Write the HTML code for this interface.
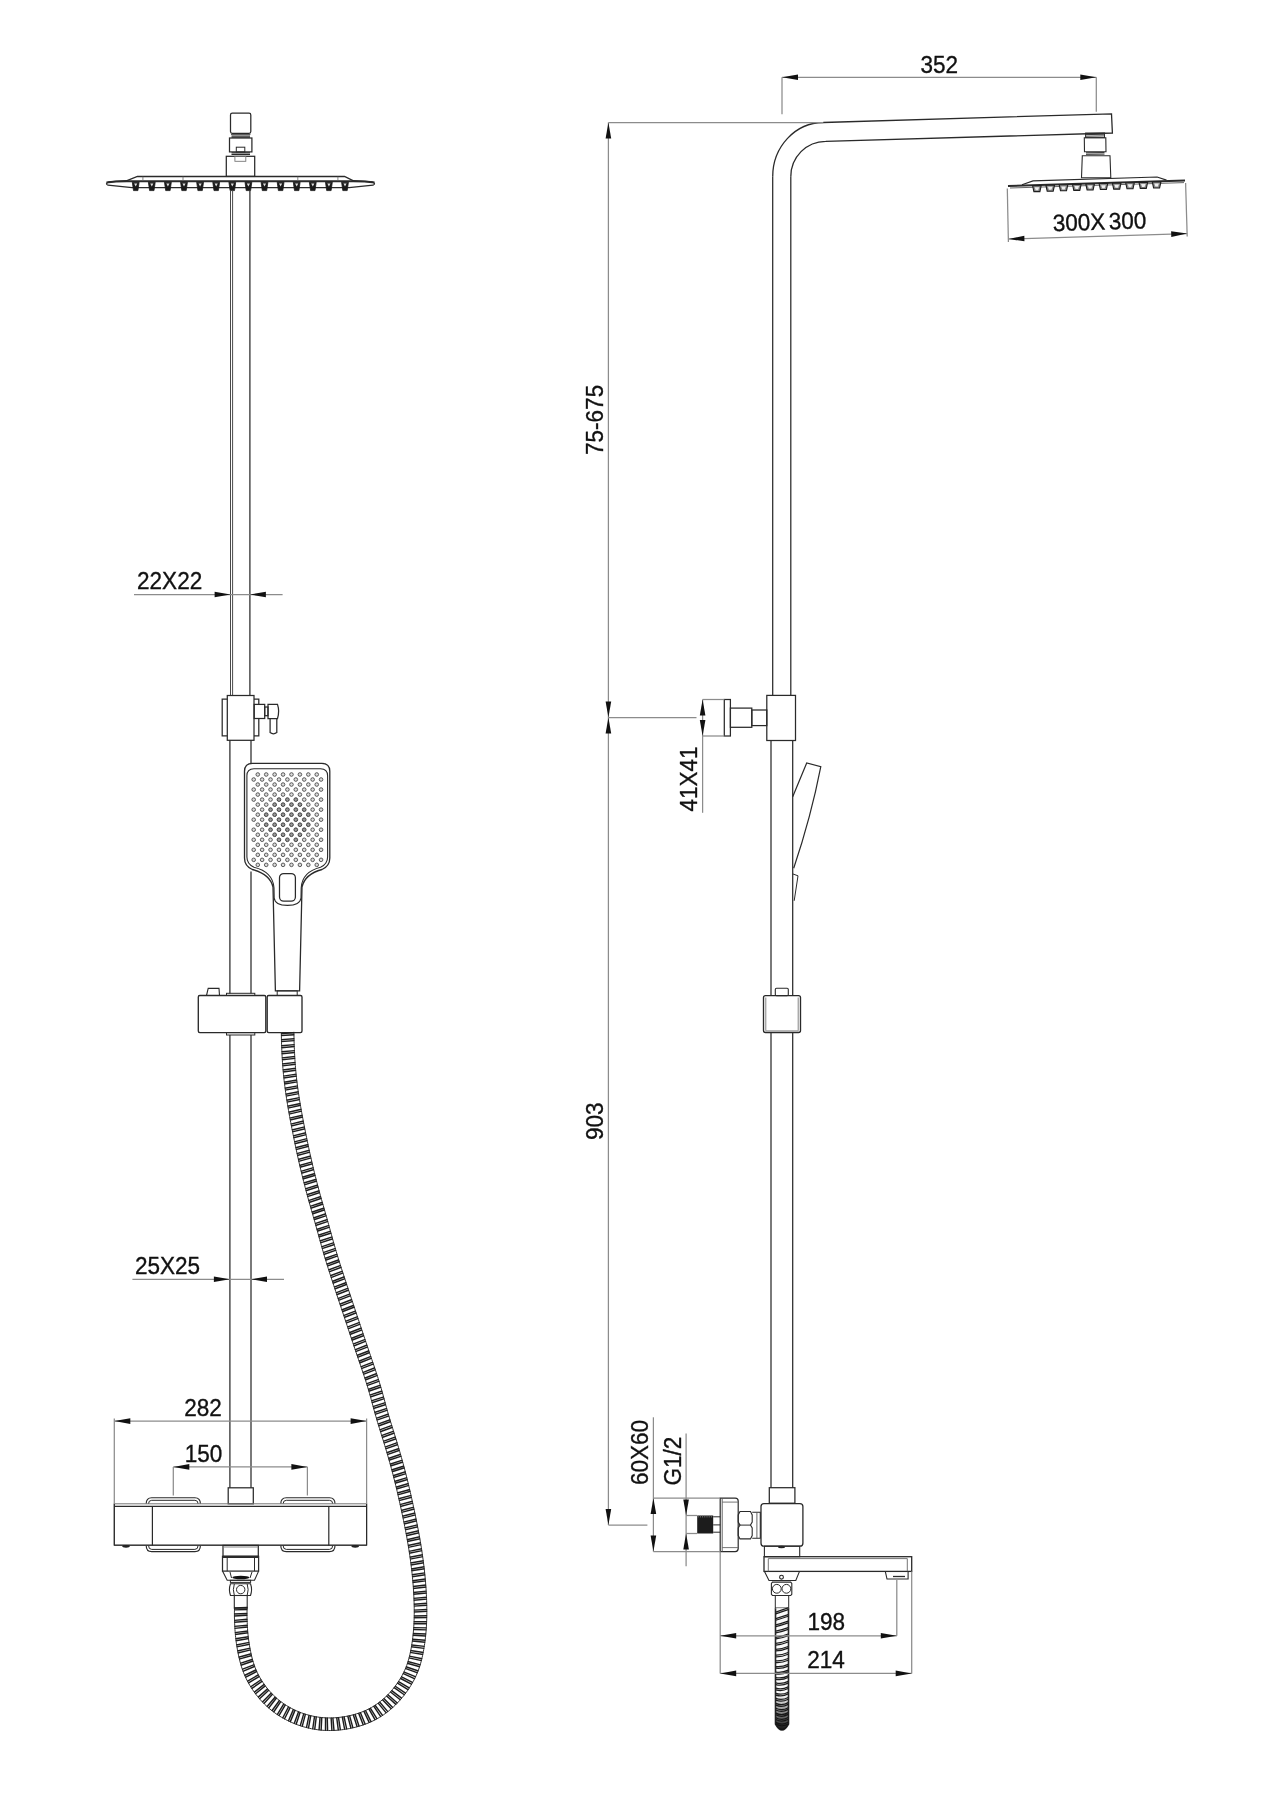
<!DOCTYPE html>
<html><head><meta charset="utf-8"><title>Shower system drawing</title>
<style>
html,body{margin:0;padding:0;background:#fff;}
svg{display:block;will-change:transform;}
text{font-family:"Liberation Sans", sans-serif;fill:#111;stroke:#111;stroke-width:0.35px;}
</style></head>
<body>
<svg width="1273" height="1800" viewBox="0 0 1273 1800">
<rect width="1273" height="1800" fill="#fff"/>
<rect x="230.5" y="113.2" width="20.3" height="20.1" rx="1.8" fill="none" stroke="#2a2a2a" stroke-width="1.25" />
<path d="M231 134.2 L250.4 134.2 M231.5 136 L250 136 M231.5 137.3 L250 137.3" fill="none" stroke="#2a2a2a" stroke-width="1.1" />
<rect x="229.5" y="138" width="22.4" height="13.9" rx="0" fill="none" stroke="#2a2a2a" stroke-width="1.25" />
<rect x="236.3" y="147.2" width="8.5" height="4.8" rx="0" fill="none" stroke="#2a2a2a" stroke-width="1.0" />
<path d="M231.5 152.8 L250 152.8 M231.5 154.4 L250 154.4" fill="none" stroke="#2a2a2a" stroke-width="1.1" />
<rect x="226.3" y="156.3" width="28.4" height="20.1" rx="0" fill="none" stroke="#2a2a2a" stroke-width="1.25" />
<rect x="234.9" y="156.3" width="10.9" height="5" rx="0" fill="none" stroke="#777" stroke-width="0.9" />
<path d="M127 180.6 L137.4 176.5 L344.5 176.5 L353 180.6" fill="none" stroke="#2a2a2a" stroke-width="1.3" />
<path d="M106.5 182.6 Q115 181.2 127 181.2 L353 181.2 Q366 181.2 374.5 182.6" fill="none" stroke="#2a2a2a" stroke-width="2.0" />
<path d="M127 180.6 L109 181.9 Q104.5 183.6 108 185.2 L132 187.6 L349 187.6 L373 185.2 Q376.5 183.6 372 181.9 L353 180.6" fill="none" stroke="#2a2a2a" stroke-width="1.2" />
<line x1="142.9" y1="176.6" x2="142.9" y2="181" stroke="#666" stroke-width="0.8" />
<line x1="183" y1="176.6" x2="183" y2="181" stroke="#666" stroke-width="0.8" />
<line x1="297.8" y1="176.6" x2="297.8" y2="181" stroke="#666" stroke-width="0.8" />
<line x1="337.9" y1="176.6" x2="337.9" y2="181" stroke="#666" stroke-width="0.8" />
<path d="M132.3 182.2 L139.1 182.2 L137.9 190.6 L133.5 190.6 Z" fill="#1a1a1a" stroke="#1a1a1a" stroke-width="0.8"/>
<path d="M134.1 183.6 L137.3 183.6 L135.7 186.5 Z" fill="#ddd"/>
<path d="M148.4 182.2 L155.2 182.2 L154 190.6 L149.6 190.6 Z" fill="#1a1a1a" stroke="#1a1a1a" stroke-width="0.8"/>
<path d="M150.2 183.6 L153.4 183.6 L151.8 186.5 Z" fill="#ddd"/>
<path d="M164.5 182.2 L171.3 182.2 L170.1 190.6 L165.7 190.6 Z" fill="#1a1a1a" stroke="#1a1a1a" stroke-width="0.8"/>
<path d="M166.3 183.6 L169.5 183.6 L167.9 186.5 Z" fill="#ddd"/>
<path d="M180.6 182.2 L187.4 182.2 L186.2 190.6 L181.8 190.6 Z" fill="#1a1a1a" stroke="#1a1a1a" stroke-width="0.8"/>
<path d="M182.4 183.6 L185.6 183.6 L184 186.5 Z" fill="#ddd"/>
<path d="M196.7 182.2 L203.5 182.2 L202.3 190.6 L197.9 190.6 Z" fill="#1a1a1a" stroke="#1a1a1a" stroke-width="0.8"/>
<path d="M198.5 183.6 L201.7 183.6 L200.1 186.5 Z" fill="#ddd"/>
<path d="M212.8 182.2 L219.6 182.2 L218.4 190.6 L214 190.6 Z" fill="#1a1a1a" stroke="#1a1a1a" stroke-width="0.8"/>
<path d="M214.6 183.6 L217.8 183.6 L216.2 186.5 Z" fill="#ddd"/>
<path d="M228.9 182.2 L235.7 182.2 L234.5 190.6 L230.1 190.6 Z" fill="#1a1a1a" stroke="#1a1a1a" stroke-width="0.8"/>
<path d="M230.7 183.6 L233.9 183.6 L232.3 186.5 Z" fill="#ddd"/>
<path d="M245 182.2 L251.8 182.2 L250.6 190.6 L246.2 190.6 Z" fill="#1a1a1a" stroke="#1a1a1a" stroke-width="0.8"/>
<path d="M246.8 183.6 L250 183.6 L248.4 186.5 Z" fill="#ddd"/>
<path d="M261.1 182.2 L267.9 182.2 L266.7 190.6 L262.3 190.6 Z" fill="#1a1a1a" stroke="#1a1a1a" stroke-width="0.8"/>
<path d="M262.9 183.6 L266.1 183.6 L264.5 186.5 Z" fill="#ddd"/>
<path d="M277.2 182.2 L284 182.2 L282.8 190.6 L278.4 190.6 Z" fill="#1a1a1a" stroke="#1a1a1a" stroke-width="0.8"/>
<path d="M279 183.6 L282.2 183.6 L280.6 186.5 Z" fill="#ddd"/>
<path d="M293.3 182.2 L300.1 182.2 L298.9 190.6 L294.5 190.6 Z" fill="#1a1a1a" stroke="#1a1a1a" stroke-width="0.8"/>
<path d="M295.1 183.6 L298.3 183.6 L296.7 186.5 Z" fill="#ddd"/>
<path d="M309.4 182.2 L316.2 182.2 L315 190.6 L310.6 190.6 Z" fill="#1a1a1a" stroke="#1a1a1a" stroke-width="0.8"/>
<path d="M311.2 183.6 L314.4 183.6 L312.8 186.5 Z" fill="#ddd"/>
<path d="M325.5 182.2 L332.3 182.2 L331.1 190.6 L326.7 190.6 Z" fill="#1a1a1a" stroke="#1a1a1a" stroke-width="0.8"/>
<path d="M327.3 183.6 L330.5 183.6 L328.9 186.5 Z" fill="#ddd"/>
<path d="M341.6 182.2 L348.4 182.2 L347.2 190.6 L342.8 190.6 Z" fill="#1a1a1a" stroke="#1a1a1a" stroke-width="0.8"/>
<path d="M343.4 183.6 L346.6 183.6 L345 186.5 Z" fill="#ddd"/>
<line x1="230.5" y1="190.5" x2="230.5" y2="695.5" stroke="#4a4a4a" stroke-width="1.0" />
<line x1="232.6" y1="190.5" x2="232.6" y2="695.5" stroke="#4a4a4a" stroke-width="1.0" />
<line x1="249.9" y1="190.5" x2="249.9" y2="695.5" stroke="#2a2a2a" stroke-width="1.25" />
<rect x="227.3" y="695.5" width="26.7" height="44.8" rx="0" fill="none" stroke="#2a2a2a" stroke-width="1.25" />
<path d="M227.3 699.2 L222.2 699.2 L222.2 735.8 L227.3 735.8" fill="none" stroke="#2a2a2a" stroke-width="1.25" />
<path d="M254 699.2 L258.8 699.2 L258.8 704.4 M258.8 718.5 L258.8 735.8 L254 735.8" fill="none" stroke="#2a2a2a" stroke-width="1.25" />
<rect x="254.2" y="704.4" width="10.5" height="14.1" rx="0" fill="none" stroke="#2a2a2a" stroke-width="1.25" />
<rect x="264.7" y="707" width="3.3" height="8.7" rx="0" fill="none" stroke="#2a2a2a" stroke-width="1.25" />
<path d="M268 704.4 L277.5 704.4 Q279.8 711.4 277.5 718.5 L268 718.5 Z" fill="none" stroke="#2a2a2a" stroke-width="1.25" />
<path d="M270.1 718.5 L270.1 732.6 Q273.4 735.2 276.8 732.6 L276.8 718.5" fill="none" stroke="#2a2a2a" stroke-width="1.25" />
<line x1="229.9" y1="740.3" x2="229.9" y2="993.5" stroke="#2a2a2a" stroke-width="1.25" />
<line x1="251" y1="740.3" x2="251" y2="763.5" stroke="#2a2a2a" stroke-width="1.25" />
<line x1="251" y1="871.5" x2="251" y2="993.5" stroke="#2a2a2a" stroke-width="1.25" />
<line x1="229.9" y1="1035" x2="229.9" y2="1487.8" stroke="#2a2a2a" stroke-width="1.25" />
<line x1="251" y1="1035" x2="251" y2="1487.8" stroke="#2a2a2a" stroke-width="1.25" />
<path d="M252.5 763.3 L321.8 763.3 Q329.8 763.3 329.8 771.3 L329.8 858 Q329.8 866 322 869.5 Q305 874 302 887 L299.6 990.8 L275.4 990.8 L273 887 Q270 874 252.3 869.5 Q244.5 866 244.5 858 L244.5 771.3 Q244.5 763.3 252.5 763.3 Z" fill="none" stroke="#2a2a2a" stroke-width="1.3" />
<path d="M254 768.7 L320.5 768.7 Q327.6 768.7 327.6 775.8 L327.6 857 Q327.6 864 320.5 867.3 Q302 872 301.2 888 L301 898 Q300 905.4 287.5 905.4 Q275 905.4 274.2 898 L274 888 Q273 872 254 867.3 Q246.9 864 246.9 857 L246.9 775.8 Q246.9 768.7 254 768.7 Z" fill="none" stroke="#2a2a2a" stroke-width="1.1" />
<rect x="279.5" y="873.5" width="15.9" height="27.7" rx="4.2" fill="none" stroke="#2a2a2a" stroke-width="1.25" />
<rect x="277.2" y="990.8" width="20" height="4.7" rx="0" fill="none" stroke="#2a2a2a" stroke-width="1.0" />
<circle cx="257.8" cy="774.5" r="1.8" fill="#dcdcdc" stroke="#4a4a4a" stroke-width="0.9"/>
<circle cx="266.22" cy="774.5" r="1.8" fill="#dcdcdc" stroke="#4a4a4a" stroke-width="0.9"/>
<circle cx="274.64" cy="774.5" r="1.8" fill="#dcdcdc" stroke="#4a4a4a" stroke-width="0.9"/>
<circle cx="283.06" cy="774.5" r="1.8" fill="#dcdcdc" stroke="#4a4a4a" stroke-width="0.9"/>
<circle cx="291.48" cy="774.5" r="1.8" fill="#dcdcdc" stroke="#4a4a4a" stroke-width="0.9"/>
<circle cx="299.9" cy="774.5" r="1.8" fill="#dcdcdc" stroke="#4a4a4a" stroke-width="0.9"/>
<circle cx="308.32" cy="774.5" r="1.8" fill="#dcdcdc" stroke="#4a4a4a" stroke-width="0.9"/>
<circle cx="316.74" cy="774.5" r="1.8" fill="#dcdcdc" stroke="#4a4a4a" stroke-width="0.9"/>
<circle cx="253.7" cy="779.52" r="1.8" fill="#dcdcdc" stroke="#4a4a4a" stroke-width="0.9"/>
<circle cx="262.12" cy="779.52" r="1.8" fill="#dcdcdc" stroke="#4a4a4a" stroke-width="0.9"/>
<circle cx="270.54" cy="779.52" r="1.8" fill="#dcdcdc" stroke="#4a4a4a" stroke-width="0.9"/>
<circle cx="278.96" cy="779.52" r="1.8" fill="#dcdcdc" stroke="#4a4a4a" stroke-width="0.9"/>
<circle cx="287.38" cy="779.52" r="1.8" fill="#dcdcdc" stroke="#4a4a4a" stroke-width="0.9"/>
<circle cx="295.8" cy="779.52" r="1.8" fill="#dcdcdc" stroke="#4a4a4a" stroke-width="0.9"/>
<circle cx="304.22" cy="779.52" r="1.8" fill="#dcdcdc" stroke="#4a4a4a" stroke-width="0.9"/>
<circle cx="312.64" cy="779.52" r="1.8" fill="#dcdcdc" stroke="#4a4a4a" stroke-width="0.9"/>
<circle cx="321.06" cy="779.52" r="1.8" fill="#dcdcdc" stroke="#4a4a4a" stroke-width="0.9"/>
<circle cx="257.8" cy="784.54" r="1.8" fill="#dcdcdc" stroke="#4a4a4a" stroke-width="0.9"/>
<circle cx="266.22" cy="784.54" r="1.8" fill="#dcdcdc" stroke="#4a4a4a" stroke-width="0.9"/>
<circle cx="274.64" cy="784.54" r="1.8" fill="#dcdcdc" stroke="#4a4a4a" stroke-width="0.9"/>
<circle cx="283.06" cy="784.54" r="1.8" fill="#dcdcdc" stroke="#4a4a4a" stroke-width="0.9"/>
<circle cx="291.48" cy="784.54" r="1.8" fill="#dcdcdc" stroke="#4a4a4a" stroke-width="0.9"/>
<circle cx="299.9" cy="784.54" r="1.8" fill="#dcdcdc" stroke="#4a4a4a" stroke-width="0.9"/>
<circle cx="308.32" cy="784.54" r="1.8" fill="#dcdcdc" stroke="#4a4a4a" stroke-width="0.9"/>
<circle cx="316.74" cy="784.54" r="1.8" fill="#dcdcdc" stroke="#4a4a4a" stroke-width="0.9"/>
<circle cx="253.7" cy="789.56" r="1.8" fill="#dcdcdc" stroke="#4a4a4a" stroke-width="0.9"/>
<circle cx="262.12" cy="789.56" r="1.8" fill="#dcdcdc" stroke="#4a4a4a" stroke-width="0.9"/>
<circle cx="270.54" cy="789.56" r="1.8" fill="#dcdcdc" stroke="#4a4a4a" stroke-width="0.9"/>
<circle cx="278.96" cy="789.56" r="1.8" fill="#dcdcdc" stroke="#4a4a4a" stroke-width="0.9"/>
<circle cx="287.38" cy="789.56" r="1.8" fill="#dcdcdc" stroke="#4a4a4a" stroke-width="0.9"/>
<circle cx="295.8" cy="789.56" r="1.8" fill="#dcdcdc" stroke="#4a4a4a" stroke-width="0.9"/>
<circle cx="304.22" cy="789.56" r="1.8" fill="#dcdcdc" stroke="#4a4a4a" stroke-width="0.9"/>
<circle cx="312.64" cy="789.56" r="1.8" fill="#dcdcdc" stroke="#4a4a4a" stroke-width="0.9"/>
<circle cx="321.06" cy="789.56" r="1.8" fill="#dcdcdc" stroke="#4a4a4a" stroke-width="0.9"/>
<circle cx="257.8" cy="794.58" r="1.8" fill="#dcdcdc" stroke="#4a4a4a" stroke-width="0.9"/>
<circle cx="266.22" cy="794.58" r="1.8" fill="#dcdcdc" stroke="#4a4a4a" stroke-width="0.9"/>
<circle cx="274.64" cy="794.58" r="1.8" fill="#dcdcdc" stroke="#4a4a4a" stroke-width="0.9"/>
<circle cx="283.06" cy="794.58" r="1.8" fill="#dcdcdc" stroke="#4a4a4a" stroke-width="0.9"/>
<circle cx="291.48" cy="794.58" r="1.8" fill="#dcdcdc" stroke="#4a4a4a" stroke-width="0.9"/>
<circle cx="299.9" cy="794.58" r="1.8" fill="#dcdcdc" stroke="#4a4a4a" stroke-width="0.9"/>
<circle cx="308.32" cy="794.58" r="1.8" fill="#dcdcdc" stroke="#4a4a4a" stroke-width="0.9"/>
<circle cx="316.74" cy="794.58" r="1.8" fill="#dcdcdc" stroke="#4a4a4a" stroke-width="0.9"/>
<circle cx="253.7" cy="799.6" r="1.8" fill="#dcdcdc" stroke="#4a4a4a" stroke-width="0.9"/>
<circle cx="262.12" cy="799.6" r="1.8" fill="#dcdcdc" stroke="#4a4a4a" stroke-width="0.9"/>
<circle cx="270.54" cy="799.6" r="1.8" fill="#dcdcdc" stroke="#4a4a4a" stroke-width="0.9"/>
<circle cx="278.96" cy="799.6" r="1.85" fill="#9a9a9a" stroke="#3a3a3a" stroke-width="0.95"/>
<circle cx="287.38" cy="799.6" r="1.85" fill="#9a9a9a" stroke="#3a3a3a" stroke-width="0.95"/>
<circle cx="295.8" cy="799.6" r="1.85" fill="#9a9a9a" stroke="#3a3a3a" stroke-width="0.95"/>
<circle cx="304.22" cy="799.6" r="1.8" fill="#dcdcdc" stroke="#4a4a4a" stroke-width="0.9"/>
<circle cx="312.64" cy="799.6" r="1.8" fill="#dcdcdc" stroke="#4a4a4a" stroke-width="0.9"/>
<circle cx="321.06" cy="799.6" r="1.8" fill="#dcdcdc" stroke="#4a4a4a" stroke-width="0.9"/>
<circle cx="257.8" cy="804.62" r="1.8" fill="#dcdcdc" stroke="#4a4a4a" stroke-width="0.9"/>
<circle cx="266.22" cy="804.62" r="1.8" fill="#dcdcdc" stroke="#4a4a4a" stroke-width="0.9"/>
<circle cx="274.64" cy="804.62" r="1.85" fill="#9a9a9a" stroke="#3a3a3a" stroke-width="0.95"/>
<circle cx="283.06" cy="804.62" r="1.85" fill="#9a9a9a" stroke="#3a3a3a" stroke-width="0.95"/>
<circle cx="291.48" cy="804.62" r="1.85" fill="#9a9a9a" stroke="#3a3a3a" stroke-width="0.95"/>
<circle cx="299.9" cy="804.62" r="1.85" fill="#9a9a9a" stroke="#3a3a3a" stroke-width="0.95"/>
<circle cx="308.32" cy="804.62" r="1.8" fill="#dcdcdc" stroke="#4a4a4a" stroke-width="0.9"/>
<circle cx="316.74" cy="804.62" r="1.8" fill="#dcdcdc" stroke="#4a4a4a" stroke-width="0.9"/>
<circle cx="253.7" cy="809.64" r="1.8" fill="#dcdcdc" stroke="#4a4a4a" stroke-width="0.9"/>
<circle cx="262.12" cy="809.64" r="1.8" fill="#dcdcdc" stroke="#4a4a4a" stroke-width="0.9"/>
<circle cx="270.54" cy="809.64" r="1.85" fill="#9a9a9a" stroke="#3a3a3a" stroke-width="0.95"/>
<circle cx="278.96" cy="809.64" r="1.85" fill="#9a9a9a" stroke="#3a3a3a" stroke-width="0.95"/>
<circle cx="287.38" cy="809.64" r="1.85" fill="#9a9a9a" stroke="#3a3a3a" stroke-width="0.95"/>
<circle cx="295.8" cy="809.64" r="1.85" fill="#9a9a9a" stroke="#3a3a3a" stroke-width="0.95"/>
<circle cx="304.22" cy="809.64" r="1.85" fill="#9a9a9a" stroke="#3a3a3a" stroke-width="0.95"/>
<circle cx="312.64" cy="809.64" r="1.8" fill="#dcdcdc" stroke="#4a4a4a" stroke-width="0.9"/>
<circle cx="321.06" cy="809.64" r="1.8" fill="#dcdcdc" stroke="#4a4a4a" stroke-width="0.9"/>
<circle cx="257.8" cy="814.66" r="1.8" fill="#dcdcdc" stroke="#4a4a4a" stroke-width="0.9"/>
<circle cx="266.22" cy="814.66" r="1.85" fill="#9a9a9a" stroke="#3a3a3a" stroke-width="0.95"/>
<circle cx="274.64" cy="814.66" r="1.85" fill="#9a9a9a" stroke="#3a3a3a" stroke-width="0.95"/>
<circle cx="283.06" cy="814.66" r="1.85" fill="#9a9a9a" stroke="#3a3a3a" stroke-width="0.95"/>
<circle cx="291.48" cy="814.66" r="1.85" fill="#9a9a9a" stroke="#3a3a3a" stroke-width="0.95"/>
<circle cx="299.9" cy="814.66" r="1.85" fill="#9a9a9a" stroke="#3a3a3a" stroke-width="0.95"/>
<circle cx="308.32" cy="814.66" r="1.85" fill="#9a9a9a" stroke="#3a3a3a" stroke-width="0.95"/>
<circle cx="316.74" cy="814.66" r="1.8" fill="#dcdcdc" stroke="#4a4a4a" stroke-width="0.9"/>
<circle cx="253.7" cy="819.68" r="1.8" fill="#dcdcdc" stroke="#4a4a4a" stroke-width="0.9"/>
<circle cx="262.12" cy="819.68" r="1.8" fill="#dcdcdc" stroke="#4a4a4a" stroke-width="0.9"/>
<circle cx="270.54" cy="819.68" r="1.85" fill="#9a9a9a" stroke="#3a3a3a" stroke-width="0.95"/>
<circle cx="278.96" cy="819.68" r="1.85" fill="#9a9a9a" stroke="#3a3a3a" stroke-width="0.95"/>
<circle cx="287.38" cy="819.68" r="1.85" fill="#9a9a9a" stroke="#3a3a3a" stroke-width="0.95"/>
<circle cx="295.8" cy="819.68" r="1.85" fill="#9a9a9a" stroke="#3a3a3a" stroke-width="0.95"/>
<circle cx="304.22" cy="819.68" r="1.85" fill="#9a9a9a" stroke="#3a3a3a" stroke-width="0.95"/>
<circle cx="312.64" cy="819.68" r="1.8" fill="#dcdcdc" stroke="#4a4a4a" stroke-width="0.9"/>
<circle cx="321.06" cy="819.68" r="1.8" fill="#dcdcdc" stroke="#4a4a4a" stroke-width="0.9"/>
<circle cx="257.8" cy="824.7" r="1.8" fill="#dcdcdc" stroke="#4a4a4a" stroke-width="0.9"/>
<circle cx="266.22" cy="824.7" r="1.85" fill="#9a9a9a" stroke="#3a3a3a" stroke-width="0.95"/>
<circle cx="274.64" cy="824.7" r="1.85" fill="#9a9a9a" stroke="#3a3a3a" stroke-width="0.95"/>
<circle cx="283.06" cy="824.7" r="1.85" fill="#9a9a9a" stroke="#3a3a3a" stroke-width="0.95"/>
<circle cx="291.48" cy="824.7" r="1.85" fill="#9a9a9a" stroke="#3a3a3a" stroke-width="0.95"/>
<circle cx="299.9" cy="824.7" r="1.85" fill="#9a9a9a" stroke="#3a3a3a" stroke-width="0.95"/>
<circle cx="308.32" cy="824.7" r="1.85" fill="#9a9a9a" stroke="#3a3a3a" stroke-width="0.95"/>
<circle cx="316.74" cy="824.7" r="1.8" fill="#dcdcdc" stroke="#4a4a4a" stroke-width="0.9"/>
<circle cx="253.7" cy="829.72" r="1.8" fill="#dcdcdc" stroke="#4a4a4a" stroke-width="0.9"/>
<circle cx="262.12" cy="829.72" r="1.8" fill="#dcdcdc" stroke="#4a4a4a" stroke-width="0.9"/>
<circle cx="270.54" cy="829.72" r="1.85" fill="#9a9a9a" stroke="#3a3a3a" stroke-width="0.95"/>
<circle cx="278.96" cy="829.72" r="1.85" fill="#9a9a9a" stroke="#3a3a3a" stroke-width="0.95"/>
<circle cx="287.38" cy="829.72" r="1.85" fill="#9a9a9a" stroke="#3a3a3a" stroke-width="0.95"/>
<circle cx="295.8" cy="829.72" r="1.85" fill="#9a9a9a" stroke="#3a3a3a" stroke-width="0.95"/>
<circle cx="304.22" cy="829.72" r="1.85" fill="#9a9a9a" stroke="#3a3a3a" stroke-width="0.95"/>
<circle cx="312.64" cy="829.72" r="1.8" fill="#dcdcdc" stroke="#4a4a4a" stroke-width="0.9"/>
<circle cx="321.06" cy="829.72" r="1.8" fill="#dcdcdc" stroke="#4a4a4a" stroke-width="0.9"/>
<circle cx="257.8" cy="834.74" r="1.8" fill="#dcdcdc" stroke="#4a4a4a" stroke-width="0.9"/>
<circle cx="266.22" cy="834.74" r="1.8" fill="#dcdcdc" stroke="#4a4a4a" stroke-width="0.9"/>
<circle cx="274.64" cy="834.74" r="1.85" fill="#9a9a9a" stroke="#3a3a3a" stroke-width="0.95"/>
<circle cx="283.06" cy="834.74" r="1.85" fill="#9a9a9a" stroke="#3a3a3a" stroke-width="0.95"/>
<circle cx="291.48" cy="834.74" r="1.85" fill="#9a9a9a" stroke="#3a3a3a" stroke-width="0.95"/>
<circle cx="299.9" cy="834.74" r="1.85" fill="#9a9a9a" stroke="#3a3a3a" stroke-width="0.95"/>
<circle cx="308.32" cy="834.74" r="1.8" fill="#dcdcdc" stroke="#4a4a4a" stroke-width="0.9"/>
<circle cx="316.74" cy="834.74" r="1.8" fill="#dcdcdc" stroke="#4a4a4a" stroke-width="0.9"/>
<circle cx="253.7" cy="839.76" r="1.8" fill="#dcdcdc" stroke="#4a4a4a" stroke-width="0.9"/>
<circle cx="262.12" cy="839.76" r="1.8" fill="#dcdcdc" stroke="#4a4a4a" stroke-width="0.9"/>
<circle cx="270.54" cy="839.76" r="1.8" fill="#dcdcdc" stroke="#4a4a4a" stroke-width="0.9"/>
<circle cx="278.96" cy="839.76" r="1.85" fill="#9a9a9a" stroke="#3a3a3a" stroke-width="0.95"/>
<circle cx="287.38" cy="839.76" r="1.85" fill="#9a9a9a" stroke="#3a3a3a" stroke-width="0.95"/>
<circle cx="295.8" cy="839.76" r="1.85" fill="#9a9a9a" stroke="#3a3a3a" stroke-width="0.95"/>
<circle cx="304.22" cy="839.76" r="1.8" fill="#dcdcdc" stroke="#4a4a4a" stroke-width="0.9"/>
<circle cx="312.64" cy="839.76" r="1.8" fill="#dcdcdc" stroke="#4a4a4a" stroke-width="0.9"/>
<circle cx="321.06" cy="839.76" r="1.8" fill="#dcdcdc" stroke="#4a4a4a" stroke-width="0.9"/>
<circle cx="257.8" cy="844.78" r="1.8" fill="#dcdcdc" stroke="#4a4a4a" stroke-width="0.9"/>
<circle cx="266.22" cy="844.78" r="1.8" fill="#dcdcdc" stroke="#4a4a4a" stroke-width="0.9"/>
<circle cx="274.64" cy="844.78" r="1.8" fill="#dcdcdc" stroke="#4a4a4a" stroke-width="0.9"/>
<circle cx="283.06" cy="844.78" r="1.8" fill="#dcdcdc" stroke="#4a4a4a" stroke-width="0.9"/>
<circle cx="291.48" cy="844.78" r="1.8" fill="#dcdcdc" stroke="#4a4a4a" stroke-width="0.9"/>
<circle cx="299.9" cy="844.78" r="1.8" fill="#dcdcdc" stroke="#4a4a4a" stroke-width="0.9"/>
<circle cx="308.32" cy="844.78" r="1.8" fill="#dcdcdc" stroke="#4a4a4a" stroke-width="0.9"/>
<circle cx="316.74" cy="844.78" r="1.8" fill="#dcdcdc" stroke="#4a4a4a" stroke-width="0.9"/>
<circle cx="253.7" cy="849.8" r="1.8" fill="#dcdcdc" stroke="#4a4a4a" stroke-width="0.9"/>
<circle cx="262.12" cy="849.8" r="1.8" fill="#dcdcdc" stroke="#4a4a4a" stroke-width="0.9"/>
<circle cx="270.54" cy="849.8" r="1.8" fill="#dcdcdc" stroke="#4a4a4a" stroke-width="0.9"/>
<circle cx="278.96" cy="849.8" r="1.8" fill="#dcdcdc" stroke="#4a4a4a" stroke-width="0.9"/>
<circle cx="287.38" cy="849.8" r="1.8" fill="#dcdcdc" stroke="#4a4a4a" stroke-width="0.9"/>
<circle cx="295.8" cy="849.8" r="1.8" fill="#dcdcdc" stroke="#4a4a4a" stroke-width="0.9"/>
<circle cx="304.22" cy="849.8" r="1.8" fill="#dcdcdc" stroke="#4a4a4a" stroke-width="0.9"/>
<circle cx="312.64" cy="849.8" r="1.8" fill="#dcdcdc" stroke="#4a4a4a" stroke-width="0.9"/>
<circle cx="321.06" cy="849.8" r="1.8" fill="#dcdcdc" stroke="#4a4a4a" stroke-width="0.9"/>
<circle cx="257.8" cy="854.82" r="1.8" fill="#dcdcdc" stroke="#4a4a4a" stroke-width="0.9"/>
<circle cx="266.22" cy="854.82" r="1.8" fill="#dcdcdc" stroke="#4a4a4a" stroke-width="0.9"/>
<circle cx="274.64" cy="854.82" r="1.8" fill="#dcdcdc" stroke="#4a4a4a" stroke-width="0.9"/>
<circle cx="283.06" cy="854.82" r="1.8" fill="#dcdcdc" stroke="#4a4a4a" stroke-width="0.9"/>
<circle cx="291.48" cy="854.82" r="1.8" fill="#dcdcdc" stroke="#4a4a4a" stroke-width="0.9"/>
<circle cx="299.9" cy="854.82" r="1.8" fill="#dcdcdc" stroke="#4a4a4a" stroke-width="0.9"/>
<circle cx="308.32" cy="854.82" r="1.8" fill="#dcdcdc" stroke="#4a4a4a" stroke-width="0.9"/>
<circle cx="316.74" cy="854.82" r="1.8" fill="#dcdcdc" stroke="#4a4a4a" stroke-width="0.9"/>
<circle cx="253.7" cy="859.84" r="1.8" fill="#dcdcdc" stroke="#4a4a4a" stroke-width="0.9"/>
<circle cx="262.12" cy="859.84" r="1.8" fill="#dcdcdc" stroke="#4a4a4a" stroke-width="0.9"/>
<circle cx="270.54" cy="859.84" r="1.8" fill="#dcdcdc" stroke="#4a4a4a" stroke-width="0.9"/>
<circle cx="278.96" cy="859.84" r="1.8" fill="#dcdcdc" stroke="#4a4a4a" stroke-width="0.9"/>
<circle cx="287.38" cy="859.84" r="1.8" fill="#dcdcdc" stroke="#4a4a4a" stroke-width="0.9"/>
<circle cx="295.8" cy="859.84" r="1.8" fill="#dcdcdc" stroke="#4a4a4a" stroke-width="0.9"/>
<circle cx="304.22" cy="859.84" r="1.8" fill="#dcdcdc" stroke="#4a4a4a" stroke-width="0.9"/>
<circle cx="312.64" cy="859.84" r="1.8" fill="#dcdcdc" stroke="#4a4a4a" stroke-width="0.9"/>
<circle cx="321.06" cy="859.84" r="1.8" fill="#dcdcdc" stroke="#4a4a4a" stroke-width="0.9"/>
<circle cx="257.8" cy="864.86" r="1.8" fill="#dcdcdc" stroke="#4a4a4a" stroke-width="0.9"/>
<circle cx="266.22" cy="864.86" r="1.8" fill="#dcdcdc" stroke="#4a4a4a" stroke-width="0.9"/>
<circle cx="274.64" cy="864.86" r="1.8" fill="#dcdcdc" stroke="#4a4a4a" stroke-width="0.9"/>
<circle cx="283.06" cy="864.86" r="1.8" fill="#dcdcdc" stroke="#4a4a4a" stroke-width="0.9"/>
<circle cx="291.48" cy="864.86" r="1.8" fill="#dcdcdc" stroke="#4a4a4a" stroke-width="0.9"/>
<circle cx="299.9" cy="864.86" r="1.8" fill="#dcdcdc" stroke="#4a4a4a" stroke-width="0.9"/>
<circle cx="308.32" cy="864.86" r="1.8" fill="#dcdcdc" stroke="#4a4a4a" stroke-width="0.9"/>
<circle cx="316.74" cy="864.86" r="1.8" fill="#dcdcdc" stroke="#4a4a4a" stroke-width="0.9"/>
<path d="M206.5 995.5 L208.2 988.4 L219 988.4 L219.5 995.5" fill="none" stroke="#2a2a2a" stroke-width="1.1" />
<rect x="226.5" y="993.3" width="28.3" height="2.2" rx="0" fill="none" stroke="#2a2a2a" stroke-width="1.0" />
<rect x="198.3" y="995.5" width="67.5" height="37.1" rx="1.5" fill="none" stroke="#2a2a2a" stroke-width="1.35" />
<rect x="267.2" y="995.5" width="34.8" height="37.1" rx="1.5" fill="none" stroke="#2a2a2a" stroke-width="1.35" />
<rect x="226.5" y="1032.6" width="28.3" height="2.4" rx="0" fill="none" stroke="#2a2a2a" stroke-width="1.0" />
<rect x="228.2" y="1487.8" width="25.1" height="16" rx="0" fill="none" stroke="#2a2a2a" stroke-width="1.25" />
<path d="M146.2 1503.8 Q146.2 1497.7 151.7 1497.7 L194.9 1497.7 Q200.4 1497.7 200.4 1503.8" fill="none" stroke="#2a2a2a" stroke-width="1.15" />
<path d="M148.5 1503.8 Q148.5 1500.3 151.7 1500.3 L194.9 1500.3 Q198.1 1500.3 198.1 1503.8" fill="none" stroke="#2a2a2a" stroke-width="1.0" />
<path d="M146.2 1545.4 Q146.2 1551.6 151.7 1551.6 L194.9 1551.6 Q200.4 1551.6 200.4 1545.4" fill="none" stroke="#2a2a2a" stroke-width="1.15" />
<path d="M148.5 1545.4 Q148.5 1549.4 151.7 1549.4 L194.9 1549.4 Q198.1 1549.4 198.1 1545.4" fill="none" stroke="#2a2a2a" stroke-width="1.0" />
<path d="M280.8 1503.8 Q280.8 1497.7 286.3 1497.7 L329.5 1497.7 Q335 1497.7 335 1503.8" fill="none" stroke="#2a2a2a" stroke-width="1.15" />
<path d="M283.1 1503.8 Q283.1 1500.3 286.3 1500.3 L329.5 1500.3 Q332.7 1500.3 332.7 1503.8" fill="none" stroke="#2a2a2a" stroke-width="1.0" />
<path d="M280.8 1545.4 Q280.8 1551.6 286.3 1551.6 L329.5 1551.6 Q335 1551.6 335 1545.4" fill="none" stroke="#2a2a2a" stroke-width="1.15" />
<path d="M283.1 1545.4 Q283.1 1549.4 286.3 1549.4 L329.5 1549.4 Q332.7 1549.4 332.7 1545.4" fill="none" stroke="#2a2a2a" stroke-width="1.0" />
<rect x="114.3" y="1503.8" width="252.3" height="41.6" fill="none" stroke="#777" stroke-width="1.0"/>
<line x1="114.3" y1="1506.3" x2="366.6" y2="1506.3" stroke="#2a2a2a" stroke-width="1.3" />
<line x1="114.3" y1="1545.1" x2="366.6" y2="1545.1" stroke="#2a2a2a" stroke-width="1.4" />
<line x1="114.3" y1="1503.8" x2="114.3" y2="1545.4" stroke="#2a2a2a" stroke-width="1.25" />
<line x1="366.6" y1="1503.8" x2="366.6" y2="1545.4" stroke="#2a2a2a" stroke-width="1.25" />
<line x1="152.4" y1="1506.5" x2="152.4" y2="1545.4" stroke="#2a2a2a" stroke-width="1.2" />
<line x1="328.8" y1="1506.5" x2="328.8" y2="1545.4" stroke="#2a2a2a" stroke-width="1.2" />
<ellipse cx="126" cy="1546.3" rx="3.8" ry="1.4" fill="#222"/>
<ellipse cx="355.2" cy="1546.3" rx="3.8" ry="1.4" fill="#222"/>
<rect x="223" y="1545.4" width="35.3" height="10.9" rx="0" fill="none" stroke="#2a2a2a" stroke-width="1.25" />
<line x1="223.5" y1="1547" x2="258" y2="1547" stroke="#888" stroke-width="1.0" />
<rect x="222.5" y="1556.3" width="36.1" height="14.8" rx="0" fill="none" stroke="#2a2a2a" stroke-width="1.25" />
<line x1="222.5" y1="1557.3" x2="258.6" y2="1557.3" stroke="#2a2a2a" stroke-width="1.4" />
<line x1="227.2" y1="1557.3" x2="227.2" y2="1571.1" stroke="#2a2a2a" stroke-width="1.0" />
<line x1="254.5" y1="1557.3" x2="254.5" y2="1571.1" stroke="#2a2a2a" stroke-width="1.0" />
<path d="M222.5 1571.1 L227.2 1580.3 L254.5 1580.3 L258.6 1571.1" fill="none" stroke="#2a2a2a" stroke-width="1.1" />
<path d="M230 1572 L231.5 1578 M252 1572 L250 1578" fill="none" stroke="#2a2a2a" stroke-width="1.0" />
<ellipse cx="240.8" cy="1577.5" rx="8.5" ry="1.8" fill="#111"/>
<rect x="230.4" y="1580.3" width="20.2" height="2.1" rx="0" fill="none" stroke="#2a2a2a" stroke-width="1.0" />
<path d="M230.5 1583.8 L250.5 1583.8 Q252.6 1589.6 250.5 1595.5 L230.5 1595.5 Q228.4 1589.6 230.5 1583.8 Z" fill="none" stroke="#2a2a2a" stroke-width="1.1" />
<circle cx="240.7" cy="1589.6" r="4.2" fill="none" stroke="#2a2a2a" stroke-width="1"/>
<path d="M234.3 1584 Q232.4 1589.6 234.3 1595.3 M247.2 1584 Q249.1 1589.6 247.2 1595.3" fill="none" stroke="#2a2a2a" stroke-width="1.0" />
<rect x="234.3" y="1595.5" width="12.9" height="12.7" rx="0" fill="none" stroke="#2a2a2a" stroke-width="1.1" />
<line x1="134" y1="594.5" x2="282.6" y2="594.5" stroke="#8c8c8c" stroke-width="1.25" />
<path d="M230.6 594.5L214.6 597.3L214.6 591.7Z" fill="#111"/>
<path d="M249.9 594.5L265.9 591.7L265.9 597.3Z" fill="#111"/>
<text transform="translate(137.05 588.9) scale(0.955 1)" font-size="23.6" text-anchor="start" >22X22</text>
<line x1="132.4" y1="1279.3" x2="284" y2="1279.3" stroke="#8c8c8c" stroke-width="1.25" />
<path d="M229.9 1279.3L213.9 1282.1L213.9 1276.5Z" fill="#111"/>
<path d="M251 1279.3L267 1276.5L267 1282.1Z" fill="#111"/>
<text transform="translate(134.9 1273.95) scale(0.955 1)" font-size="23.6" text-anchor="start" >25X25</text>
<line x1="114.3" y1="1421.1" x2="366.6" y2="1421.1" stroke="#8c8c8c" stroke-width="1.25" />
<path d="M114.3 1421.1L130.3 1418.3L130.3 1423.9Z" fill="#111"/>
<path d="M366.6 1421.1L350.6 1423.9L350.6 1418.3Z" fill="#111"/>
<line x1="114.3" y1="1418.5" x2="114.3" y2="1503.8" stroke="#8c8c8c" stroke-width="1.25" />
<line x1="366.6" y1="1418.5" x2="366.6" y2="1503.8" stroke="#8c8c8c" stroke-width="1.25" />
<text transform="translate(184.3 1415.95) scale(0.955 1)" font-size="23.6" text-anchor="start" >282</text>
<line x1="173.3" y1="1466.9" x2="307.4" y2="1466.9" stroke="#8c8c8c" stroke-width="1.25" />
<path d="M173.3 1466.9L189.3 1464.1L189.3 1469.7Z" fill="#111"/>
<path d="M307.4 1466.9L291.4 1469.7L291.4 1464.1Z" fill="#111"/>
<line x1="173.3" y1="1466.9" x2="173.3" y2="1495.5" stroke="#8c8c8c" stroke-width="1.25" />
<line x1="307.4" y1="1466.9" x2="307.4" y2="1495.5" stroke="#8c8c8c" stroke-width="1.25" />
<text transform="translate(184.75 1461.75) scale(0.955 1)" font-size="23.6" text-anchor="start" >150</text>
<path d="M281.3 1032.16 L281.35 1034.11 L281.38 1036.11 L281.42 1038.11 L281.46 1040.14 L281.51 1042.16 L281.57 1044.19 L281.64 1046.23 L281.72 1048.27 L281.82 1050.27 L281.91 1052.28 L282.01 1054.3 L282.11 1056.31 L282.23 1058.36 L282.35 1060.38 L282.48 1062.4 L282.62 1064.42 L282.77 1066.44 L282.93 1068.46 L283.11 1070.51 L283.29 1072.53 L283.49 1074.55 L283.69 1076.57 L283.91 1078.59 L284.13 1080.61 L284.37 1082.65 L284.62 1084.66 L284.88 1086.66 L285.14 1088.67 L285.42 1090.67 L285.7 1092.7 L285.99 1094.7 L286.29 1096.7 L286.59 1098.69 L286.91 1100.69 L287.23 1102.7 L287.56 1104.69 L287.89 1106.68 L288.23 1108.67 L288.58 1110.66 L288.93 1112.64 L289.29 1114.64 L289.65 1116.62 L290.01 1118.6 L290.38 1120.57 L290.76 1122.55 L291.14 1124.52 L291.52 1126.51 L291.9 1128.48 L292.29 1130.45 L292.68 1132.42 L293.08 1134.39 L293.47 1136.36 L293.87 1138.33 L294.27 1140.3 L294.68 1142.26 L295.08 1144.23 L295.49 1146.2 L295.91 1148.17 L296.33 1150.14 L296.75 1152.11 L297.18 1154.07 L297.61 1156.04 L298.05 1158 L298.49 1159.98 L298.94 1161.94 L299.39 1163.91 L299.85 1165.87 L300.31 1167.83 L300.77 1169.79 L301.25 1171.76 L301.72 1173.71 L302.2 1175.67 L302.68 1177.62 L303.17 1179.57 L303.66 1181.52 L304.16 1183.48 L304.67 1185.43 L305.17 1187.38 L305.68 1189.33 L306.2 1191.27 L306.72 1193.23 L307.25 1195.17 L307.78 1197.11 L308.31 1199.06 L308.85 1201 L309.4 1202.94 L309.95 1204.88 L310.5 1206.81 L311.05 1208.74 L311.6 1210.66 L312.16 1212.59 L312.71 1214.51 L313.26 1216.42 L313.81 1218.34 L314.35 1220.26 L314.89 1222.17 L315.43 1224.08 L315.97 1226 L316.5 1227.92 L317.03 1229.84 L317.56 1231.76 L318.09 1233.69 L318.62 1235.62 L319.15 1237.55 L319.69 1239.49 L320.22 1241.42 L320.76 1243.35 L321.3 1245.29 L321.86 1247.24 L322.41 1249.17 L322.97 1251.11 L323.53 1253.04 L324.1 1254.98 L324.68 1256.92 L325.26 1258.85 L325.85 1260.78 L326.44 1262.71 L327.04 1264.63 L327.64 1266.56 L328.24 1268.48 L328.86 1270.4 L329.47 1272.32 L330.09 1274.23 L330.7 1276.14 L331.33 1278.05 L331.95 1279.96 L332.57 1281.86 L333.2 1283.77 L333.83 1285.67 L334.46 1287.57 L335.09 1289.48 L335.72 1291.38 L336.35 1293.28 L336.98 1295.18 L337.61 1297.07 L338.24 1298.97 L338.87 1300.87 L339.51 1302.77 L340.14 1304.67 L340.77 1306.57 L341.4 1308.46 L342.03 1310.36 L342.67 1312.26 L343.3 1314.16 L343.93 1316.05 L344.57 1317.95 L345.2 1319.85 L345.83 1321.75 L346.46 1323.64 L347.1 1325.54 L347.73 1327.44 L348.36 1329.34 L348.99 1331.23 L349.63 1333.13 L350.26 1335.03 L350.89 1336.93 L351.53 1338.83 L352.16 1340.73 L352.8 1342.63 L353.44 1344.53 L354.08 1346.43 L354.72 1348.33 L355.36 1350.22 L356.01 1352.13 L356.66 1354.02 L357.3 1355.92 L357.95 1357.81 L358.6 1359.71 L359.24 1361.6 L359.89 1363.49 L360.54 1365.38 L361.18 1367.27 L361.82 1369.15 L362.46 1371.04 L363.09 1372.92 L363.72 1374.81 L364.35 1376.69 L364.97 1378.58 L365.57 1380.44 L366.18 1382.33 L366.77 1384.21 L367.36 1386.1 L367.92 1387.96 L368.49 1389.86 L369.05 1391.75 L369.59 1393.65 L370.12 1395.53 L370.66 1397.44 L371.18 1399.35 L371.7 1401.27 L372.22 1403.19 L372.74 1405.12 L373.26 1407.06 L373.79 1409 L374.33 1410.95 L374.86 1412.89 L375.42 1414.85 L375.97 1416.79 L376.54 1418.73 L377.11 1420.69 L377.69 1422.62 L378.28 1424.56 L378.87 1426.48 L379.47 1428.4 L380.06 1430.32 L380.66 1432.24 L381.26 1434.15 L381.85 1436.06 L382.45 1437.96 L383.04 1439.86 L383.63 1441.76 L384.21 1443.67 L384.79 1445.56 L385.37 1447.46 L385.94 1449.37 L386.51 1451.27 L387.07 1453.17 L387.62 1455.07 L388.17 1456.97 L388.72 1458.88 L389.26 1460.79 L389.8 1462.7 L390.33 1464.62 L390.85 1466.53 L391.37 1468.43 L391.89 1470.35 L392.4 1472.27 L392.9 1474.19 L393.4 1476.11 L393.89 1478.03 L394.38 1479.94 L394.86 1481.86 L395.34 1483.79 L395.81 1485.71 L396.27 1487.64 L396.73 1489.58 L397.19 1491.49 L397.64 1493.43 L398.08 1495.37 L398.52 1497.31 L398.96 1499.25 L399.4 1501.19 L399.83 1503.12 L400.25 1505.07 L400.68 1507.01 L401.1 1508.96 L401.52 1510.9 L401.93 1512.85 L402.34 1514.79 L402.75 1516.74 L403.16 1518.69 L403.56 1520.64 L403.96 1522.59 L404.35 1524.53 L404.74 1526.47 L405.12 1528.42 L405.5 1530.37 L405.87 1532.32 L406.24 1534.27 L406.6 1536.2 L406.95 1538.15 L407.3 1540.1 L407.64 1542.06 L407.97 1544.01 L408.3 1545.96 L408.62 1547.9 L408.93 1549.85 L409.23 1551.81 L409.53 1553.76 L409.82 1555.72 L410.1 1557.68 L410.37 1559.62 L410.63 1561.58 L410.89 1563.54 L411.14 1565.5 L411.38 1567.47 L411.61 1569.41 L411.84 1571.37 L412.05 1573.34 L412.26 1575.3 L412.45 1577.25 L412.64 1579.21 L412.82 1581.18 L412.98 1583.15 L413.14 1585.09 L413.29 1587.06 L413.43 1589.03 L413.55 1590.98 L413.67 1592.95 L413.77 1594.9 L413.87 1596.88 L413.96 1598.85 L414.03 1600.8 L414.1 1602.78 L414.15 1604.73 L414.19 1606.7 L414.22 1608.65 L414.23 1610.62 L414.24 1612.56 L414.22 1614.5 L414.19 1616.47 L414.15 1618.4 L414.09 1620.34 L414 1622.3 L413.91 1624.23 L413.8 1626.19 L413.67 1628.12 L413.52 1630.04 L413.35 1632 L413.17 1633.92 L412.97 1635.83 L412.74 1637.77 L412.5 1639.67 L412.23 1641.61 L411.95 1643.51 L411.65 1645.41 L411.33 1647.34 L410.99 1649.22 L410.63 1651.08 L410.23 1652.99 L409.83 1654.82 L409.37 1656.7 L408.91 1658.49 L408.41 1660.26 L407.85 1662.09 L407.28 1663.81 L406.67 1665.52 L405.98 1667.3 L405.28 1668.96 L404.51 1670.7 L403.74 1672.33 L402.89 1674.02 L402.04 1675.61 L401.1 1677.27 L400.18 1678.82 L399.17 1680.43 L398.18 1681.94 L397.11 1683.51 L396 1685.06 L394.92 1686.51 L393.74 1688.01 L392.54 1689.49 L391.37 1690.87 L390.11 1692.29 L388.83 1693.69 L387.59 1694.97 L386.24 1696.31 L384.87 1697.61 L383.55 1698.8 L382.12 1700.03 L380.67 1701.23 L379.27 1702.31 L377.76 1703.43 L376.22 1704.51 L374.75 1705.48 L373.16 1706.48 L371.65 1707.37 L370 1708.28 L368.34 1709.15 L366.76 1709.92 L365.04 1710.69 L363.31 1711.43 L361.66 1712.08 L359.89 1712.73 L358.19 1713.31 L356.38 1713.88 L354.55 1714.42 L352.8 1714.89 L350.94 1715.35 L349.16 1715.76 L347.29 1716.14 L345.41 1716.5 L343.59 1716.8 L341.69 1717.08 L339.86 1717.31 L338.03 1717.51 L336.11 1717.68 L334.27 1717.8 L332.44 1717.89 L330.52 1717.93 L328.68 1717.93 L326.84 1717.89 L325.01 1717.8 L323.18 1717.67 L321.34 1717.49 L319.5 1717.27 L317.66 1717.01 L315.82 1716.71 L314 1716.37 L312.12 1715.98 L310.32 1715.56 L308.53 1715.1 L306.76 1714.6 L305.01 1714.06 L303.19 1713.46 L301.46 1712.84 L299.75 1712.19 L297.98 1711.47 L296.3 1710.74 L294.65 1709.98 L292.93 1709.14 L291.32 1708.31 L289.65 1707.39 L288.09 1706.5 L286.47 1705.51 L284.96 1704.54 L283.39 1703.48 L281.85 1702.39 L280.43 1701.32 L278.95 1700.15 L277.58 1699.02 L276.16 1697.78 L274.77 1696.5 L273.49 1695.27 L272.17 1693.93 L270.87 1692.55 L269.67 1691.22 L268.43 1689.79 L267.23 1688.32 L266.12 1686.91 L264.98 1685.39 L263.86 1683.85 L262.85 1682.37 L261.81 1680.78 L260.86 1679.26 L259.9 1677.62 L259.03 1676.06 L258.15 1674.39 L257.36 1672.78 L256.56 1671.06 L255.85 1669.41 L255.14 1667.65 L254.51 1665.96 L253.89 1664.16 L253.34 1662.43 L252.81 1660.67 L252.3 1658.81 L251.84 1657.01 L251.39 1655.12 L250.98 1653.28 L250.58 1651.37 L250.21 1649.5 L249.86 1647.58 L249.53 1645.69 L249.21 1643.76 L248.92 1641.88 L248.64 1639.95 L248.4 1638.07 L248.18 1636.14 L247.98 1634.25 L247.8 1632.31 L247.65 1630.41 L247.51 1628.45 L247.4 1626.54 L247.3 1624.58 L247.22 1622.65 L247.16 1620.71 L247.08 1618.63 L247.03 1616.78 L247.01 1614.84 L247.02 1612.94 L247.04 1610.99 L247.08 1608.99 L247.1 1606.9 M293.9 1031.84 L293.94 1033.89 L293.98 1035.89 L294.02 1037.88 L294.06 1039.86 L294.1 1041.83 L294.16 1043.8 L294.23 1045.76 L294.31 1047.72 L294.41 1049.72 L294.5 1051.7 L294.59 1053.68 L294.7 1055.65 L294.81 1057.61 L294.92 1059.58 L295.05 1061.55 L295.19 1063.52 L295.34 1065.49 L295.49 1067.45 L295.66 1069.39 L295.84 1071.35 L296.02 1073.31 L296.22 1075.27 L296.43 1077.23 L296.65 1079.19 L296.88 1081.12 L297.12 1083.08 L297.37 1085.04 L297.63 1087 L297.9 1088.96 L298.17 1090.9 L298.46 1092.86 L298.75 1094.81 L299.05 1096.77 L299.35 1098.73 L299.66 1100.66 L299.99 1102.62 L300.31 1104.57 L300.65 1106.53 L300.99 1108.48 L301.33 1110.44 L301.68 1112.38 L302.04 1114.34 L302.4 1116.29 L302.77 1118.24 L303.14 1120.2 L303.51 1122.15 L303.89 1124.1 L304.27 1126.05 L304.65 1128.01 L305.04 1129.96 L305.43 1131.92 L305.82 1133.86 L306.22 1135.81 L306.62 1137.77 L307.02 1139.72 L307.42 1141.67 L307.83 1143.62 L308.24 1145.55 L308.65 1147.5 L309.07 1149.44 L309.49 1151.39 L309.92 1153.33 L310.35 1155.27 L310.78 1157.19 L311.22 1159.13 L311.67 1161.06 L312.12 1163 L312.57 1164.93 L313.03 1166.87 L313.49 1168.79 L313.96 1170.72 L314.43 1172.65 L314.91 1174.58 L315.39 1176.51 L315.88 1178.43 L316.37 1180.35 L316.86 1182.27 L317.36 1184.2 L317.87 1186.12 L318.38 1188.04 L318.89 1189.95 L319.41 1191.87 L319.93 1193.78 L320.45 1195.69 L320.99 1197.61 L321.53 1199.52 L322.07 1201.43 L322.61 1203.35 L323.16 1205.26 L323.71 1207.18 L324.27 1209.1 L324.82 1211.02 L325.37 1212.95 L325.92 1214.88 L326.47 1216.81 L327.02 1218.75 L327.57 1220.68 L328.11 1222.62 L328.64 1224.56 L329.18 1226.49 L329.71 1228.42 L330.24 1230.35 L330.77 1232.28 L331.3 1234.2 L331.83 1236.13 L332.36 1238.05 L332.9 1239.97 L333.43 1241.88 L333.97 1243.78 L334.52 1245.69 L335.07 1247.6 L335.62 1249.51 L336.18 1251.41 L336.75 1253.3 L337.32 1255.2 L337.9 1257.1 L338.48 1258.99 L339.07 1260.89 L339.66 1262.78 L340.26 1264.68 L340.86 1266.56 L341.46 1268.46 L342.07 1270.35 L342.69 1272.25 L343.31 1274.14 L343.93 1276.04 L344.55 1277.93 L345.17 1279.82 L345.79 1281.72 L346.42 1283.62 L347.05 1285.51 L347.68 1287.41 L348.31 1289.31 L348.94 1291.2 L349.57 1293.1 L350.2 1295 L350.83 1296.89 L351.46 1298.79 L352.09 1300.69 L352.72 1302.58 L353.36 1304.48 L353.99 1306.38 L354.62 1308.27 L355.25 1310.17 L355.89 1312.07 L356.52 1313.97 L357.15 1315.86 L357.78 1317.76 L358.42 1319.66 L359.05 1321.56 L359.68 1323.45 L360.31 1325.35 L360.95 1327.25 L361.58 1329.14 L362.21 1331.04 L362.84 1332.94 L363.48 1334.83 L364.11 1336.72 L364.75 1338.62 L365.38 1340.51 L366.02 1342.4 L366.66 1344.29 L367.3 1346.18 L367.94 1348.07 L368.58 1349.96 L369.23 1351.85 L369.87 1353.74 L370.52 1355.63 L371.17 1357.52 L371.81 1359.41 L372.46 1361.31 L373.11 1363.21 L373.75 1365.11 L374.4 1367.01 L375.04 1368.92 L375.68 1370.83 L376.31 1372.74 L376.94 1374.65 L377.57 1376.59 L378.19 1378.52 L378.79 1380.45 L379.39 1382.38 L379.99 1384.34 L380.57 1386.28 L381.14 1388.23 L381.7 1390.17 L382.26 1392.14 L382.8 1394.08 L383.34 1396.04 L383.86 1397.98 L384.39 1399.91 L384.91 1401.84 L385.43 1403.77 L385.95 1405.69 L386.47 1407.6 L387 1409.51 L387.53 1411.4 L388.08 1413.3 L388.63 1415.2 L389.19 1417.09 L389.76 1418.99 L390.33 1420.87 L390.91 1422.77 L391.5 1424.68 L392.09 1426.58 L392.69 1428.48 L393.28 1430.39 L393.88 1432.3 L394.48 1434.21 L395.07 1436.13 L395.67 1438.05 L396.26 1439.97 L396.85 1441.9 L397.43 1443.83 L398.01 1445.75 L398.59 1447.68 L399.16 1449.61 L399.73 1451.56 L400.29 1453.5 L400.84 1455.43 L401.39 1457.37 L401.93 1459.31 L402.47 1461.25 L403.01 1463.2 L403.54 1465.15 L404.06 1467.1 L404.58 1469.05 L405.09 1471 L405.6 1472.95 L406.1 1474.9 L406.6 1476.87 L407.09 1478.83 L407.57 1480.78 L408.05 1482.74 L408.52 1484.7 L408.99 1486.66 L409.46 1488.63 L409.91 1490.59 L410.36 1492.56 L410.81 1494.52 L411.25 1496.48 L411.69 1498.44 L412.13 1500.41 L412.56 1502.37 L412.99 1504.34 L413.42 1506.3 L413.84 1508.26 L414.26 1510.23 L414.68 1512.2 L415.09 1514.17 L415.5 1516.13 L415.9 1518.1 L416.31 1520.07 L416.7 1522.05 L417.1 1524.03 L417.49 1526.01 L417.87 1527.99 L418.25 1529.96 L418.62 1531.95 L418.99 1533.95 L419.35 1535.93 L419.71 1537.92 L420.05 1539.91 L420.39 1541.9 L420.73 1543.89 L421.06 1545.9 L421.38 1547.9 L421.69 1549.89 L421.99 1551.89 L422.28 1553.89 L422.57 1555.89 L422.85 1557.92 L423.13 1559.92 L423.39 1561.92 L423.64 1563.93 L423.89 1565.94 L424.13 1567.97 L424.36 1569.98 L424.58 1571.99 L424.79 1574 L424.99 1576.04 L425.18 1578.05 L425.37 1580.07 L425.54 1582.09 L425.7 1584.13 L425.85 1586.15 L426 1588.17 L426.13 1590.21 L426.25 1592.23 L426.36 1594.28 L426.46 1596.3 L426.55 1598.32 L426.62 1600.36 L426.69 1602.39 L426.75 1604.44 L426.79 1606.46 L426.82 1608.51 L426.83 1610.54 L426.84 1612.6 L426.82 1614.66 L426.79 1616.69 L426.74 1618.76 L426.68 1620.82 L426.59 1622.85 L426.49 1624.92 L426.37 1626.95 L426.23 1629.01 L426.08 1631.08 L425.9 1633.11 L425.71 1635.17 L425.49 1637.24 L425.25 1639.27 L424.99 1641.34 L424.71 1643.36 L424.41 1645.42 L424.08 1647.47 L423.74 1649.48 L423.37 1651.54 L422.97 1653.6 L422.56 1655.62 L422.09 1657.69 L421.61 1659.7 L421.07 1661.77 L420.49 1663.86 L419.88 1665.85 L419.19 1667.93 L418.45 1669.99 L417.69 1671.94 L416.85 1673.96 L416 1675.88 L415.06 1677.87 L414.11 1679.75 L413.08 1681.69 L412.05 1683.52 L410.92 1685.4 L409.81 1687.18 L408.61 1689.02 L407.43 1690.74 L406.21 1692.45 L404.89 1694.2 L403.6 1695.86 L402.28 1697.48 L400.86 1699.15 L399.47 1700.73 L398.05 1702.27 L396.51 1703.86 L395.02 1705.35 L393.49 1706.8 L391.84 1708.29 L390.24 1709.67 L388.6 1711.01 L386.84 1712.38 L385.14 1713.64 L383.41 1714.86 L381.54 1716.1 L379.74 1717.23 L377.81 1718.36 L375.95 1719.39 L374.07 1720.37 L372.05 1721.35 L370.12 1722.22 L368.17 1723.05 L366.1 1723.87 L364.12 1724.6 L362.03 1725.31 L360.03 1725.94 L358.02 1726.53 L355.91 1727.1 L353.88 1727.6 L351.76 1728.09 L349.72 1728.51 L347.67 1728.89 L345.54 1729.24 L343.48 1729.55 L341.34 1729.82 L339.2 1730.06 L337.13 1730.24 L334.98 1730.38 L332.82 1730.48 L330.74 1730.53 L328.58 1730.53 L326.42 1730.48 L324.26 1730.38 L322.1 1730.22 L319.96 1730.02 L317.83 1729.76 L315.71 1729.46 L313.59 1729.11 L311.48 1728.72 L309.45 1728.29 L307.36 1727.8 L305.27 1727.26 L303.19 1726.68 L301.12 1726.05 L299.14 1725.39 L297.1 1724.66 L295.07 1723.89 L293.14 1723.1 L291.15 1722.23 L289.17 1721.32 L287.29 1720.4 L285.35 1719.4 L283.51 1718.4 L281.6 1717.3 L279.81 1716.21 L277.95 1715.02 L276.21 1713.83 L274.49 1712.61 L272.71 1711.28 L271.05 1709.97 L269.34 1708.55 L267.75 1707.15 L266.19 1705.73 L264.59 1704.18 L263.11 1702.68 L261.66 1701.15 L260.18 1699.51 L258.8 1697.91 L257.46 1696.29 L256.1 1694.56 L254.84 1692.88 L253.61 1691.18 L252.37 1689.36 L251.22 1687.6 L250.05 1685.73 L248.98 1683.91 L247.91 1681.98 L246.93 1680.12 L245.95 1678.13 L245.07 1676.22 L244.19 1674.2 L243.41 1672.25 L242.64 1670.19 L241.96 1668.21 L241.29 1666.13 L240.68 1664.06 L240.13 1662.06 L239.6 1659.99 L239.12 1657.98 L238.66 1655.92 L238.24 1653.91 L237.83 1651.86 L237.46 1649.85 L237.1 1647.79 L236.77 1645.78 L236.45 1643.71 L236.16 1641.68 L235.89 1639.59 L235.66 1637.55 L235.44 1635.46 L235.25 1633.42 L235.08 1631.33 L234.94 1629.29 L234.82 1627.22 L234.71 1625.18 L234.63 1623.12 L234.56 1621.06 L234.49 1619.14 L234.43 1617 L234.41 1614.93 L234.42 1612.83 L234.44 1610.78 L234.48 1608.78 L234.5 1606.87" fill="none" stroke="#333" stroke-width="1.0"/>
<path d="M281.04 1033.63L294.22 1032.76M281.07 1035.52L294.26 1034.68M281.15 1039.63L294.33 1038.77M281.19 1041.55L294.37 1040.65M281.32 1045.74L294.49 1044.65M281.4 1047.68L294.56 1046.51M281.59 1051.78L294.75 1050.6M281.68 1053.71L294.83 1052.46M281.9 1057.85L295.04 1056.51M282.01 1059.77L295.15 1058.39M282.29 1063.94L295.41 1062.4M282.43 1065.87L295.54 1064.27M282.76 1070.01L295.86 1068.29M282.93 1071.94L296.03 1070.16M283.34 1076.11L296.41 1074.15M283.54 1078.03L296.6 1076.01M284.01 1082.16L297.05 1080.02M284.25 1084.07L297.28 1081.88M284.78 1088.21L297.78 1085.87M285.04 1090.12L298.03 1087.73M285.62 1094.23L298.6 1091.75M285.9 1096.13L298.87 1093.6M286.53 1100.24L299.48 1097.59M286.84 1102.14L299.77 1099.45M287.51 1106.22L300.43 1103.46M287.83 1108.13L300.74 1105.3M288.55 1112.2L301.44 1109.3M288.88 1114.09L301.77 1111.16M289.63 1118.15L302.5 1115.17M289.98 1120.04L302.84 1117.01M290.75 1124.09L303.6 1121.02M291.11 1125.96L303.96 1122.87M291.9 1130.01L304.74 1126.87M292.27 1131.89L305.1 1128.73M293.08 1135.92L305.9 1132.73M293.46 1137.79L306.27 1134.59M294.28 1141.83L307.09 1138.58M294.67 1143.7L307.47 1140.43M295.51 1147.73L308.3 1144.43M295.91 1149.6L308.7 1146.27M296.78 1153.65L309.55 1150.25M297.19 1155.52L309.95 1152.09M298.09 1159.55L310.84 1156.07M298.51 1161.41L311.25 1157.91M299.44 1165.45L312.16 1161.86M299.88 1167.31L312.59 1163.7M300.84 1171.33L313.53 1167.66M301.29 1173.19L313.97 1169.49M302.27 1177.21L314.94 1173.44M302.74 1179.06L315.39 1175.27M303.75 1183.06L316.39 1179.22M304.22 1184.91L316.86 1181.05M305.26 1188.92L317.88 1184.98M305.75 1190.77L318.36 1186.8M306.82 1194.76L319.41 1190.74M307.33 1196.61L319.9 1192.55M308.43 1200.59L320.98 1196.48M308.95 1202.44L321.49 1198.29M310.07 1206.41L322.6 1202.21M310.6 1208.24L323.12 1204.03M311.73 1212.19L324.25 1207.96M312.26 1214.01L324.77 1209.79M313.38 1217.95L325.91 1213.74M313.9 1219.76L326.43 1215.57M315.01 1223.68L327.56 1219.54M315.52 1225.51L328.07 1221.38M316.61 1229.44L329.17 1225.35M317.11 1231.27L329.68 1227.18M318.2 1235.22L330.77 1231.14M318.7 1237.05L331.27 1232.97M319.8 1241.01L332.36 1236.91M320.31 1242.86L332.86 1238.73M321.43 1246.83L333.97 1242.66M321.95 1248.67L334.48 1244.47M323.1 1252.65L335.6 1248.37M323.64 1254.49L336.13 1250.18M324.82 1258.45L337.29 1254.07M325.38 1260.28L337.84 1255.88M326.6 1264.25L339.03 1259.75M327.17 1266.07L339.59 1261.55M328.42 1270.01L340.81 1265.44M329 1271.83L341.39 1267.23M330.27 1275.76L342.63 1271.11M330.86 1277.57L343.22 1272.91M332.13 1281.48L344.49 1276.79M332.73 1283.29L345.08 1278.59M334.02 1287.19L346.36 1282.48M334.61 1289L346.96 1284.28M335.91 1292.9L348.25 1288.17M336.51 1294.7L348.84 1289.97M337.8 1298.59L350.14 1293.86M338.4 1300.4L350.74 1295.66M339.7 1304.29L352.03 1299.55M340.3 1306.09L352.63 1301.35M341.59 1309.98L353.93 1305.24M342.19 1311.79L354.53 1307.04M343.49 1315.68L355.82 1310.93M344.09 1317.48L356.42 1312.73M345.39 1321.37L357.72 1316.62M345.99 1323.17L358.32 1318.42M347.29 1327.06L359.62 1322.31M347.89 1328.86L360.22 1324.12M349.18 1332.75L361.52 1328.01M349.78 1334.55L362.12 1329.81M351.08 1338.45L363.41 1333.69M351.69 1340.25L364.02 1335.49M353 1344.15L365.31 1339.37M353.6 1345.95L365.92 1341.17M354.92 1349.85L367.23 1345.04M355.53 1351.65L367.84 1346.84M356.86 1355.54L369.16 1350.71M357.47 1357.34L369.77 1352.51M358.8 1361.22L371.09 1356.38M359.41 1363.02L371.71 1358.18M360.74 1366.89L373.04 1362.07M361.35 1368.69L373.65 1363.87M362.66 1372.56L374.97 1367.77M363.25 1374.33L375.58 1369.59M364.53 1378.2L376.88 1373.52M365.11 1379.98L377.48 1375.34M366.33 1383.83L378.75 1379.31M366.89 1385.62L379.33 1381.15M368.07 1389.49L380.54 1385.12M368.59 1391.26L381.09 1386.99M369.71 1395.15L382.24 1390.98M370.21 1396.94L382.77 1392.85M371.28 1400.87L383.86 1396.83M371.78 1402.69L384.36 1398.67M372.84 1406.65L385.43 1402.63M373.34 1408.5L385.92 1404.46M374.44 1412.49L387 1408.37M374.96 1414.34L387.5 1410.18M376.11 1418.34L388.61 1414.06M376.65 1420.18L389.14 1415.87M377.85 1424.16L390.3 1419.74M378.41 1425.99L390.85 1421.55M379.63 1429.93L392.05 1425.44M380.19 1431.75L392.62 1427.25M381.42 1435.67L393.84 1431.16M381.98 1437.48L394.4 1432.97M383.19 1441.38L395.63 1436.91M383.75 1443.18L396.19 1438.73M384.94 1447.08L397.4 1442.67M385.48 1448.89L397.95 1444.5M386.64 1452.78L399.13 1448.47M387.17 1454.59L399.67 1450.31M388.3 1458.5L400.82 1454.28M388.81 1460.31L401.35 1456.12M389.91 1464.21L402.47 1460.11M390.41 1466.03L402.98 1461.96M391.47 1469.96L404.06 1465.95M391.96 1471.78L404.56 1467.8M392.98 1475.7L405.61 1471.81M393.45 1477.52L406.09 1473.66M394.45 1481.46L407.11 1477.67M394.91 1483.29L407.57 1479.53M395.86 1487.23L408.56 1483.56M396.3 1489.06L409.01 1485.42M397.23 1493.02L409.95 1489.44M397.66 1494.86L410.39 1491.31M398.56 1498.82L411.31 1495.34M398.97 1500.67L411.72 1497.2M399.86 1504.65L412.62 1501.23M400.26 1506.5L413.03 1503.09M401.12 1510.48L413.9 1507.12M401.52 1512.33L414.3 1508.99M402.36 1516.32L415.15 1513.02M402.75 1518.17L415.54 1514.89M403.56 1522.16L416.38 1518.94M403.94 1524.01L416.76 1520.81M404.73 1528L417.57 1524.86M405.09 1529.85L417.93 1526.74M405.85 1533.83L418.71 1530.81M406.2 1535.68L419.07 1532.69M406.92 1539.68L419.81 1536.76M407.24 1541.52L420.15 1538.67M407.92 1545.52L420.84 1542.75M408.23 1547.37L421.16 1544.65M408.86 1551.38L421.81 1548.74M409.14 1553.21L422.11 1550.66M409.73 1557.23L422.71 1554.76M409.99 1559.09L422.98 1556.66M410.53 1563.08L423.54 1560.79M410.77 1564.94L423.79 1562.7M411.26 1568.97L424.3 1566.82M411.47 1570.83L424.52 1568.73M411.91 1574.84L424.97 1572.87M412.1 1576.7L425.17 1574.79M412.47 1580.71L425.57 1578.95M412.63 1582.58L425.74 1580.86M412.95 1586.59L426.07 1585.03M413.09 1588.46L426.21 1586.95M413.34 1592.47L426.48 1591.12M413.44 1594.34L426.59 1593.04M413.64 1598.37L426.8 1597.21M413.71 1600.24L426.88 1599.13M413.84 1604.26L427.02 1603.3M413.88 1606.11L427.07 1605.26M413.93 1610.12L427.13 1609.44M413.94 1611.99L427.14 1611.37M413.9 1615.96L427.11 1615.6M413.86 1617.83L427.07 1617.53M413.73 1621.79L426.94 1621.77M413.64 1623.65L426.85 1623.7M413.4 1627.64L426.61 1627.9M413.27 1629.46L426.47 1629.87M412.92 1633.43L426.11 1634.07M412.73 1635.24L425.92 1636.04M412.26 1639.18L425.43 1640.24M412.02 1640.98L425.18 1642.21M411.43 1644.91L424.56 1646.39M411.13 1646.7L424.24 1648.35M410.42 1650.59L423.49 1652.53M410.06 1652.4L423.11 1654.45M409.2 1656.14L422.17 1658.7M408.75 1657.91L421.69 1660.62M407.71 1661.52L420.49 1664.89M407.16 1663.24L419.89 1666.79M405.88 1666.72L418.38 1671.03M405.2 1668.39L417.63 1672.88M403.65 1671.84L415.85 1676.92M402.89 1673.35L414.93 1678.81M401.09 1676.68L412.85 1682.71M400.18 1678.24L411.85 1684.44M398.16 1681.44L409.52 1688.18M397.15 1682.94L408.41 1689.85M394.92 1686.01L405.85 1693.43M393.82 1687.44L404.64 1695.02M391.41 1690.37L401.87 1698.44M390.23 1691.72L400.56 1699.95M387.65 1694.49L397.57 1703.21M386.39 1695.75L396.16 1704.64M383.64 1698.32L392.94 1707.7M382.3 1699.49L391.43 1709.04M379.39 1701.84L387.99 1711.88M377.97 1702.91L386.38 1713.1M374.9 1705.03L382.73 1715.68M373.52 1705.91L380.92 1716.85M370.19 1707.84L377.17 1719.07M368.74 1708.61L375.27 1720.09M365.38 1710.22L371.25 1722.06M363.75 1710.92L369.4 1722.87M360.26 1712.28L365.26 1724.51M358.57 1712.87L363.36 1725.18M354.95 1713.99L359.16 1726.52M353.21 1714.47L357.23 1727.06M349.5 1715.37L352.99 1728.12M347.73 1715.75L351.04 1728.55M343.96 1716.44L346.75 1729.35M342.24 1716.7L344.71 1729.68M338.42 1717.17L340.41 1730.23M336.69 1717.33L338.35 1730.44M332.84 1717.57L334.02 1730.73M331.11 1717.62L331.95 1730.81M327.27 1717.61L327.59 1730.82M325.54 1717.53L325.52 1730.75M321.79 1717.24L321.1 1730.43M320.06 1717.04L319.05 1730.22M316.3 1716.49L314.7 1729.6M314.58 1716.17L312.68 1729.25M310.79 1715.37L308.44 1728.37M309.11 1714.94L306.43 1727.88M305.49 1713.9L302.16 1726.69M303.85 1713.37L300.18 1726.06M300.24 1712.06L296.07 1724.6M298.65 1711.42L294.14 1723.84M295.15 1709.88L290.12 1722.1M293.52 1709.1L288.32 1721.25M290.23 1707.38L284.33 1719.2M288.67 1706.49L282.58 1718.21M285.45 1704.51L278.8 1715.92M283.96 1703.52L277.12 1714.82M280.91 1701.32L273.5 1712.25M279.6 1700.29L271.8 1710.96M276.64 1697.81L268.46 1708.18M275.42 1696.69L266.86 1706.76M272.65 1694L263.74 1703.76M271.5 1692.79L262.26 1702.23M268.99 1689.98L259.28 1698.95M267.84 1688.6L257.99 1697.41M265.51 1685.62L255.25 1693.94M264.46 1684.17L254.06 1692.33M262.33 1681.04L251.56 1688.69M261.38 1679.52L250.48 1687M259.48 1676.26L248.23 1683.18M258.64 1674.69L247.27 1681.42M256.99 1671.3L245.29 1677.44M256.32 1669.76L244.43 1675.51M254.93 1666.23L242.78 1671.42M254.37 1664.63L242.06 1669.44M253.22 1660.99L240.72 1665.27M252.72 1659.24L240.17 1663.37M251.8 1655.54L239.08 1659.12M251.39 1653.75L238.64 1657.21M250.59 1649.89L237.76 1653.04M250.26 1648.12L237.38 1651.08M249.58 1644.21L236.65 1646.91M249.29 1642.38L236.34 1644.99M248.75 1638.47L235.74 1640.77M248.54 1636.7L235.49 1638.78M248.14 1632.78L235.05 1634.54M247.99 1630.93L234.88 1632.6M247.72 1626.98L234.58 1628.37M247.63 1625.16L234.47 1626.4M247.47 1621.17L234.3 1622.2M247.41 1619.22L234.24 1620.35M247.31 1615.34L234.12 1616.03M247.31 1613.5L234.11 1614.07M247.37 1609.5L234.16 1609.87M247.4 1607.57L234.19 1608.01" fill="none" stroke="#1e1e1e" stroke-width="1.45"/>
<line x1="772.7" y1="176.7" x2="772.7" y2="695.4" stroke="#2a2a2a" stroke-width="1.25" />
<line x1="790.8" y1="176.7" x2="790.8" y2="695.4" stroke="#2a2a2a" stroke-width="1.25" />
<line x1="771" y1="740.5" x2="771" y2="995.6" stroke="#2a2a2a" stroke-width="1.25" />
<line x1="792.7" y1="740.5" x2="792.7" y2="995.6" stroke="#2a2a2a" stroke-width="1.25" />
<line x1="771" y1="1032.5" x2="771" y2="1487.7" stroke="#2a2a2a" stroke-width="1.25" />
<line x1="792.7" y1="1032.5" x2="792.7" y2="1487.7" stroke="#2a2a2a" stroke-width="1.25" />
<path d="M772.7 176.7 A50.6 54.2 0 0 1 823.3 122.5 L1111.5 113.8 L1112.4 133.0 L825.7 141.3 A34.9 35.4 0 0 0 790.8 176.7" fill="none" stroke="#2a2a2a" stroke-width="1.3" />
<rect x="1085.6" y="133" width="18.9" height="4.7" rx="0" fill="none" stroke="#2a2a2a" stroke-width="1.0" />
<path d="M1085.6 134.6 L1104.5 134.3 M1085.6 136.2 L1104.5 135.9" fill="none" stroke="#2a2a2a" stroke-width="0.9" />
<path d="M1084.3 137.7 L1105.8 137.7 L1106 151.8 L1084.5 151.8 Z" fill="none" stroke="#2a2a2a" stroke-width="1.1" />
<path d="M1086 152.8 L1104.5 152.6 M1086 154.3 L1104.5 154.1" fill="none" stroke="#2a2a2a" stroke-width="1.0" />
<path d="M1082.3 155.8 L1110 155.8 L1110.8 177.8 L1081.5 177.8 Z" fill="none" stroke="#2a2a2a" stroke-width="1.1" />
<path d="M1022 184.8 L1033 180.9 L1157.1 177.0 L1166.5 180.1" fill="none" stroke="#2a2a2a" stroke-width="1.2" />
<path d="M1008 186.1 L1185 180.5" fill="none" stroke="#2a2a2a" stroke-width="2.0" />
<path d="M1010 188 L1184 182.6" fill="none" stroke="#555" stroke-width="0.9" />
<path d="M1032.6 185.6 L1041.2 185.6 L1039.9 191.6 L1033.9 191.6 Z" fill="#8a8a8a" stroke="#1e1e1e" stroke-width="1.1"/>
<path d="M1034.6 187.2 L1039.2 187.2 L1038.1 190.2 L1035.7 190.2 Z" fill="#eee"/>
<path d="M1045.9 185.19 L1054.5 185.19 L1053.2 191.19 L1047.2 191.19 Z" fill="#8a8a8a" stroke="#1e1e1e" stroke-width="1.1"/>
<path d="M1047.9 186.79 L1052.5 186.79 L1051.4 189.79 L1049 189.79 Z" fill="#eee"/>
<path d="M1059.2 184.79 L1067.8 184.79 L1066.5 190.79 L1060.5 190.79 Z" fill="#8a8a8a" stroke="#1e1e1e" stroke-width="1.1"/>
<path d="M1061.2 186.39 L1065.8 186.39 L1064.7 189.39 L1062.3 189.39 Z" fill="#eee"/>
<path d="M1072.5 184.38 L1081.1 184.38 L1079.8 190.38 L1073.8 190.38 Z" fill="#8a8a8a" stroke="#1e1e1e" stroke-width="1.1"/>
<path d="M1074.5 185.98 L1079.1 185.98 L1078 188.98 L1075.6 188.98 Z" fill="#eee"/>
<path d="M1085.8 183.98 L1094.4 183.98 L1093.1 189.98 L1087.1 189.98 Z" fill="#8a8a8a" stroke="#1e1e1e" stroke-width="1.1"/>
<path d="M1087.8 185.58 L1092.4 185.58 L1091.3 188.58 L1088.9 188.58 Z" fill="#eee"/>
<path d="M1099.1 183.57 L1107.7 183.57 L1106.4 189.57 L1100.4 189.57 Z" fill="#8a8a8a" stroke="#1e1e1e" stroke-width="1.1"/>
<path d="M1101.1 185.17 L1105.7 185.17 L1104.6 188.17 L1102.2 188.17 Z" fill="#eee"/>
<path d="M1112.4 183.17 L1121 183.17 L1119.7 189.17 L1113.7 189.17 Z" fill="#8a8a8a" stroke="#1e1e1e" stroke-width="1.1"/>
<path d="M1114.4 184.77 L1119 184.77 L1117.9 187.77 L1115.5 187.77 Z" fill="#eee"/>
<path d="M1125.7 182.76 L1134.3 182.76 L1133 188.76 L1127 188.76 Z" fill="#8a8a8a" stroke="#1e1e1e" stroke-width="1.1"/>
<path d="M1127.7 184.36 L1132.3 184.36 L1131.2 187.36 L1128.8 187.36 Z" fill="#eee"/>
<path d="M1139 182.35 L1147.6 182.35 L1146.3 188.35 L1140.3 188.35 Z" fill="#8a8a8a" stroke="#1e1e1e" stroke-width="1.1"/>
<path d="M1141 183.95 L1145.6 183.95 L1144.5 186.95 L1142.1 186.95 Z" fill="#eee"/>
<path d="M1152.3 181.95 L1160.9 181.95 L1159.6 187.95 L1153.6 187.95 Z" fill="#8a8a8a" stroke="#1e1e1e" stroke-width="1.1"/>
<path d="M1154.3 183.55 L1158.9 183.55 L1157.8 186.55 L1155.4 186.55 Z" fill="#eee"/>
<rect x="766.8" y="695.4" width="28.7" height="45.1" rx="0" fill="none" stroke="#2a2a2a" stroke-width="1.25" />
<rect x="724.3" y="699.5" width="6.1" height="36.5" rx="0" fill="none" stroke="#2a2a2a" stroke-width="1.25" />
<rect x="730.4" y="708.1" width="21.4" height="19.2" rx="0" fill="none" stroke="#2a2a2a" stroke-width="1.25" />
<rect x="751.8" y="710" width="15" height="15.6" rx="0" fill="none" stroke="#2a2a2a" stroke-width="1.25" />
<path d="M792.7 796.7 L806.7 763.0 L820.8 766.7 Q811 817 793.7 868.3" fill="none" stroke="#2a2a2a" stroke-width="1.2" />
<path d="M793 874 L798 875.8 L794.2 900.8" fill="none" stroke="#2a2a2a" stroke-width="1.0" />
<rect x="763.5" y="995.6" width="37" height="36.9" rx="2" fill="none" stroke="#2a2a2a" stroke-width="1.35" />
<path d="M765.8 997.5 L765.8 1030.6 M798.2 997.5 L798.2 1030.6 M765.5 1030.9 L798.5 1030.9" fill="none" stroke="#777" stroke-width="0.9" />
<rect x="775.3" y="988.3" width="13" height="7.3" rx="1.2" fill="none" stroke="#2a2a2a" stroke-width="1.1" />
<rect x="769.3" y="1487.7" width="25.6" height="15.5" rx="0" fill="none" stroke="#2a2a2a" stroke-width="1.25" />
<rect x="761" y="1503.6" width="41.9" height="42.6" rx="3" fill="none" stroke="#2a2a2a" stroke-width="1.3" />
<ellipse cx="781.5" cy="1547" rx="3.5" ry="1.2" fill="#222"/>
<rect x="764.4" y="1546.2" width="35.3" height="10.5" rx="0" fill="none" stroke="#2a2a2a" stroke-width="1.1" />
<rect x="764" y="1556.7" width="147.7" height="14.7" rx="0" fill="none" stroke="#2a2a2a" stroke-width="1.3" />
<line x1="768.3" y1="1558.6" x2="907.3" y2="1558.6" stroke="#666" stroke-width="0.9" />
<line x1="768.3" y1="1558.6" x2="768.3" y2="1571.4" stroke="#666" stroke-width="0.9" />
<line x1="907.3" y1="1558.6" x2="907.3" y2="1571.4" stroke="#666" stroke-width="0.9" />
<path d="M885.3 1571.4 L887 1579 L908.1 1579 L908.1 1571.4" fill="none" stroke="#2a2a2a" stroke-width="1.1" />
<path d="M893 1576.5 L905 1576.5" fill="none" stroke="#2a2a2a" stroke-width="1.3" />
<path d="M764.5 1571.4 L769 1580.5 L795.8 1580.5 L799.5 1571.4" fill="none" stroke="#2a2a2a" stroke-width="1.1" />
<circle cx="781.5" cy="1577.2" r="1.9" fill="none" stroke="#222" stroke-width="1.1"/>
<path d="M772.5 1582.1 L790.7 1582.1 L791.8 1583.5 L791.8 1594.2 L790.7 1595.5 L772.5 1595.5 L771.4 1594.2 L771.4 1583.5 Z" fill="none" stroke="#2a2a2a" stroke-width="1.1" />
<circle cx="776.8" cy="1588.8" r="4.4" fill="none" stroke="#2a2a2a" stroke-width="1"/>
<circle cx="786.4" cy="1588.8" r="4.4" fill="none" stroke="#2a2a2a" stroke-width="1"/>
<rect x="775.3" y="1595.5" width="13.4" height="12.5" rx="0" fill="none" stroke="#2a2a2a" stroke-width="1.0" />
<path d="M775.5 1608.2 L775.5 1724 Q782 1736 788.5 1724 L788.5 1608.2" fill="#fafafa" stroke="#262626" stroke-width="1.6"/>
<path d="M775.8 1612.1 Q782 1609.9 788.2 1607.9 M775.8 1613.8 Q782 1611.6 788.2 1609.6 M775.8 1618.54 Q782 1616.68 788.2 1614.58 M775.8 1620.24 Q782 1618.38 788.2 1616.28 M775.8 1624.88 Q782 1623.36 788.2 1621.16 M775.8 1626.58 Q782 1625.06 788.2 1622.86 M775.8 1631.13 Q782 1629.94 788.2 1627.64 M775.8 1632.83 Q782 1631.64 788.2 1629.34 M775.8 1637.27 Q782 1636.42 788.2 1634.01 M775.8 1638.97 Q782 1638.12 788.2 1635.71 M775.8 1643.32 Q782 1642.79 788.2 1640.29 M775.8 1645.02 Q782 1644.49 788.2 1641.99 M775.8 1649.27 Q782 1649.06 788.2 1646.46 M775.8 1650.97 Q782 1650.76 788.2 1648.16 M775.8 1655.13 Q782 1655.23 788.2 1652.54 M775.8 1656.83 Q782 1656.93 788.2 1654.24 M775.8 1660.88 Q782 1661.29 788.2 1658.51 M775.8 1662.58 Q782 1662.99 788.2 1660.21 M775.8 1666.54 Q782 1667.25 788.2 1664.38 M775.8 1668.24 Q782 1668.95 788.2 1666.08 M775.8 1672.1 Q782 1673.11 788.2 1670.15 M775.8 1673.8 Q782 1674.81 788.2 1671.85 M775.8 1677.57 Q782 1678.87 788.2 1675.82 M775.8 1679.27 Q782 1680.57 788.2 1677.52 M775.8 1682.93 Q782 1684.52 788.2 1681.38 M775.8 1684.63 Q782 1686.22 788.2 1683.08 M775.8 1688.2 Q782 1690.07 788.2 1686.85 M775.8 1689.9 Q782 1691.77 788.2 1688.55 M775.8 1693.37 Q782 1695.52 788.2 1692.21 M775.8 1695.07 Q782 1697.22 788.2 1693.91 M775.8 1698.45 Q782 1700.86 788.2 1697.48 M775.8 1700.15 Q782 1702.56 788.2 1699.18 M775.8 1703.42 Q782 1706.1 788.2 1702.64 M775.8 1705.12 Q782 1707.8 788.2 1704.34 M775.8 1708.3 Q782 1711.24 788.2 1707.7 M775.8 1710 Q782 1712.94 788.2 1709.4 M775.8 1713.08 Q782 1716.28 788.2 1712.66 M775.8 1714.78 Q782 1717.98 788.2 1714.36 M775.8 1717.76 Q782 1721.21 788.2 1717.52 M775.8 1719.46 Q782 1722.91 788.2 1719.22 M775.8 1722.35 Q782 1726.04 788.2 1722.28 M775.8 1724.05 Q782 1727.74 788.2 1723.98" fill="none" stroke="#1c1c1c" stroke-width="1.25"/>
<defs><linearGradient id="hg" x1="0" y1="0" x2="0" y2="1"><stop offset="0" stop-color="#111" stop-opacity="0"/><stop offset="0.55" stop-color="#111" stop-opacity="0.55"/><stop offset="1" stop-color="#111" stop-opacity="1"/></linearGradient></defs>
<path d="M775.5 1695 L775.5 1724 Q782 1736 788.5 1724 L788.5 1695 Z" fill="url(#hg)"/>
<path d="M752.2 1512.2 L760.3 1512.2 L760.3 1538.2 L752.2 1538.2" fill="none" stroke="#2a2a2a" stroke-width="1.1" />
<line x1="756.9" y1="1512.2" x2="756.9" y2="1538.2" stroke="#555" stroke-width="0.9" />
<path d="M740 1511.5 L750.5 1511.5 L752.2 1515 L752.2 1522 L750.5 1525.1 L752.2 1528 L752.2 1535.5 L750.5 1538.9 L740 1538.9 L738.2 1535.5 L738.2 1528 L740 1525.1 L738.2 1522 L738.2 1515 Z" fill="none" stroke="#2a2a2a" stroke-width="1.1" />
<line x1="740" y1="1525.1" x2="750.5" y2="1525.1" stroke="#2a2a2a" stroke-width="1.0" />
<path d="M720.2 1498.1 L735.2 1498.1 Q738.2 1498.1 738.2 1501.1 L738.2 1548.6 Q738.2 1551.6 735.2 1551.6 L720.2 1551.6 Z" fill="none" stroke="#2a2a2a" stroke-width="1.2" />
<line x1="722.2" y1="1498.1" x2="722.2" y2="1551.6" stroke="#555" stroke-width="0.9" />
<line x1="722.2" y1="1502.1" x2="738" y2="1502.1" stroke="#666" stroke-width="0.9" />
<line x1="722.2" y1="1547.6" x2="738" y2="1547.6" stroke="#666" stroke-width="0.9" />
<path d="M713.2 1516.8 L720.2 1516.8 M713.2 1524.9 L720.2 1524.9 M713.2 1532.2 L720.2 1532.2" fill="none" stroke="#2a2a2a" stroke-width="1.0" />
<rect x="697.2" y="1515.5" width="16" height="18" fill="#1c1c1c"/>
<line x1="698.2" y1="1515.5" x2="698.2" y2="1517.5" stroke="#777" stroke-width="0.8"/>
<line x1="700.4" y1="1515.5" x2="700.4" y2="1517.5" stroke="#777" stroke-width="0.8"/>
<line x1="702.6" y1="1515.5" x2="702.6" y2="1517.5" stroke="#777" stroke-width="0.8"/>
<line x1="704.8" y1="1515.5" x2="704.8" y2="1517.5" stroke="#777" stroke-width="0.8"/>
<line x1="707" y1="1515.5" x2="707" y2="1517.5" stroke="#777" stroke-width="0.8"/>
<line x1="709.2" y1="1515.5" x2="709.2" y2="1517.5" stroke="#777" stroke-width="0.8"/>
<line x1="711.4" y1="1515.5" x2="711.4" y2="1517.5" stroke="#777" stroke-width="0.8"/>
<line x1="608.4" y1="122.5" x2="608.4" y2="1525" stroke="#8c8c8c" stroke-width="1.25" />
<path d="M608.4 122.5L611.2 138.5L605.6 138.5Z" fill="#111"/>
<path d="M608.4 717.5L605.6 701.5L611.2 701.5Z" fill="#111"/>
<path d="M608.4 717.5L611.2 733.5L605.6 733.5Z" fill="#111"/>
<path d="M608.4 1525L605.6 1509L611.2 1509Z" fill="#111"/>
<line x1="608.4" y1="122.5" x2="823.3" y2="122.5" stroke="#8c8c8c" stroke-width="1.25" />
<line x1="608.4" y1="717.5" x2="696.5" y2="717.5" stroke="#8c8c8c" stroke-width="1.25" />
<line x1="608.4" y1="1525" x2="647.4" y2="1525" stroke="#8c8c8c" stroke-width="1.25" />
<text transform="translate(602.6 419.9) rotate(-90) scale(0.955 1)" font-size="23.6" text-anchor="middle" >75-675</text>
<text transform="translate(603.35 1121.2) rotate(-90) scale(0.955 1)" font-size="23.6" text-anchor="middle" >903</text>
<line x1="782" y1="77.3" x2="1096.3" y2="77.3" stroke="#8c8c8c" stroke-width="1.25" />
<path d="M782 77.3L798 74.5L798 80.1Z" fill="#111"/>
<path d="M1096.3 77.3L1080.3 80.1L1080.3 74.5Z" fill="#111"/>
<line x1="782" y1="77.3" x2="782" y2="114.2" stroke="#8c8c8c" stroke-width="1.25" />
<line x1="1096.3" y1="77.3" x2="1096.3" y2="111.7" stroke="#8c8c8c" stroke-width="1.25" />
<text transform="translate(920.5 72.5) scale(0.955 1)" font-size="23.6" text-anchor="start" >352</text>
<line x1="1008.4" y1="239" x2="1187.2" y2="233.6" stroke="#8c8c8c" stroke-width="1.25" />
<path d="M1008.4 239L1024.31 235.72L1024.48 241.32Z" fill="#111"/>
<path d="M1187.2 233.6L1171.29 236.88L1171.12 231.28Z" fill="#111"/>
<line x1="1007.3" y1="188.5" x2="1008.4" y2="242" stroke="#8c8c8c" stroke-width="1.25" />
<line x1="1185.6" y1="183" x2="1187.2" y2="236.5" stroke="#8c8c8c" stroke-width="1.25" />
<text transform="translate(1053.05 231.15) rotate(-1.73) scale(0.955 1)" font-size="23.6" text-anchor="start" >300X<tspan dx="3.5">300</tspan></text>
<line x1="702.6" y1="699.5" x2="702.6" y2="812.8" stroke="#8c8c8c" stroke-width="1.25" />
<path d="M702.6 699.5L705.4 715.5L699.8 715.5Z" fill="#111"/>
<path d="M702.6 736L699.8 720L705.4 720Z" fill="#111"/>
<line x1="702.6" y1="699.5" x2="724.3" y2="699.5" stroke="#8c8c8c" stroke-width="1.25" />
<line x1="702.6" y1="736" x2="724.3" y2="736" stroke="#8c8c8c" stroke-width="1.25" />
<text transform="translate(697.35 779.05) rotate(-90) scale(0.955 1)" font-size="23.6" text-anchor="middle" >41X41</text>
<line x1="653.4" y1="1417.3" x2="653.4" y2="1551.6" stroke="#8c8c8c" stroke-width="1.25" />
<path d="M653.4 1498.1L656.2 1514.1L650.6 1514.1Z" fill="#111"/>
<path d="M653.4 1551.6L650.6 1535.6L656.2 1535.6Z" fill="#111"/>
<line x1="653.4" y1="1498.1" x2="720.2" y2="1498.1" stroke="#8c8c8c" stroke-width="1.25" />
<line x1="653.4" y1="1551.6" x2="720.2" y2="1551.6" stroke="#8c8c8c" stroke-width="1.25" />
<text transform="translate(648.2 1452.45) rotate(-90) scale(0.955 1)" font-size="23.6" text-anchor="middle" >60X60</text>
<line x1="686.1" y1="1433.4" x2="686.1" y2="1566.2" stroke="#8c8c8c" stroke-width="1.25" />
<path d="M686.1 1515.5L683.3 1499.5L688.9 1499.5Z" fill="#111"/>
<path d="M686.1 1533.5L688.9 1549.5L683.3 1549.5Z" fill="#111"/>
<line x1="686.1" y1="1515.5" x2="697.2" y2="1515.5" stroke="#8c8c8c" stroke-width="1.25" />
<line x1="686.1" y1="1533.5" x2="697.2" y2="1533.5" stroke="#8c8c8c" stroke-width="1.25" />
<text transform="translate(681.1 1461.2) rotate(-90) scale(0.955 1)" font-size="23.6" text-anchor="middle" >G1/2</text>
<line x1="720.2" y1="1551.6" x2="720.2" y2="1673.6" stroke="#8c8c8c" stroke-width="1.25" />
<line x1="896.8" y1="1580" x2="896.8" y2="1635.8" stroke="#8c8c8c" stroke-width="1.25" />
<line x1="911.7" y1="1571.4" x2="911.7" y2="1673.4" stroke="#8c8c8c" stroke-width="1.25" />
<line x1="720.2" y1="1635.8" x2="896.8" y2="1635.8" stroke="#8c8c8c" stroke-width="1.25" />
<path d="M720.2 1635.8L736.2 1633L736.2 1638.6Z" fill="#111"/>
<path d="M896.8 1635.8L880.8 1638.6L880.8 1633Z" fill="#111"/>
<line x1="720.2" y1="1673.4" x2="911.7" y2="1673.4" stroke="#8c8c8c" stroke-width="1.25" />
<path d="M720.2 1673.4L736.2 1670.6L736.2 1676.2Z" fill="#111"/>
<path d="M911.7 1673.4L895.7 1676.2L895.7 1670.6Z" fill="#111"/>
<text transform="translate(807.45 1630.25) scale(0.955 1)" font-size="23.6" text-anchor="start" >198</text>
<text transform="translate(807.25 1668.05) scale(0.955 1)" font-size="23.6" text-anchor="start" >214</text>
</svg>
</body></html>
